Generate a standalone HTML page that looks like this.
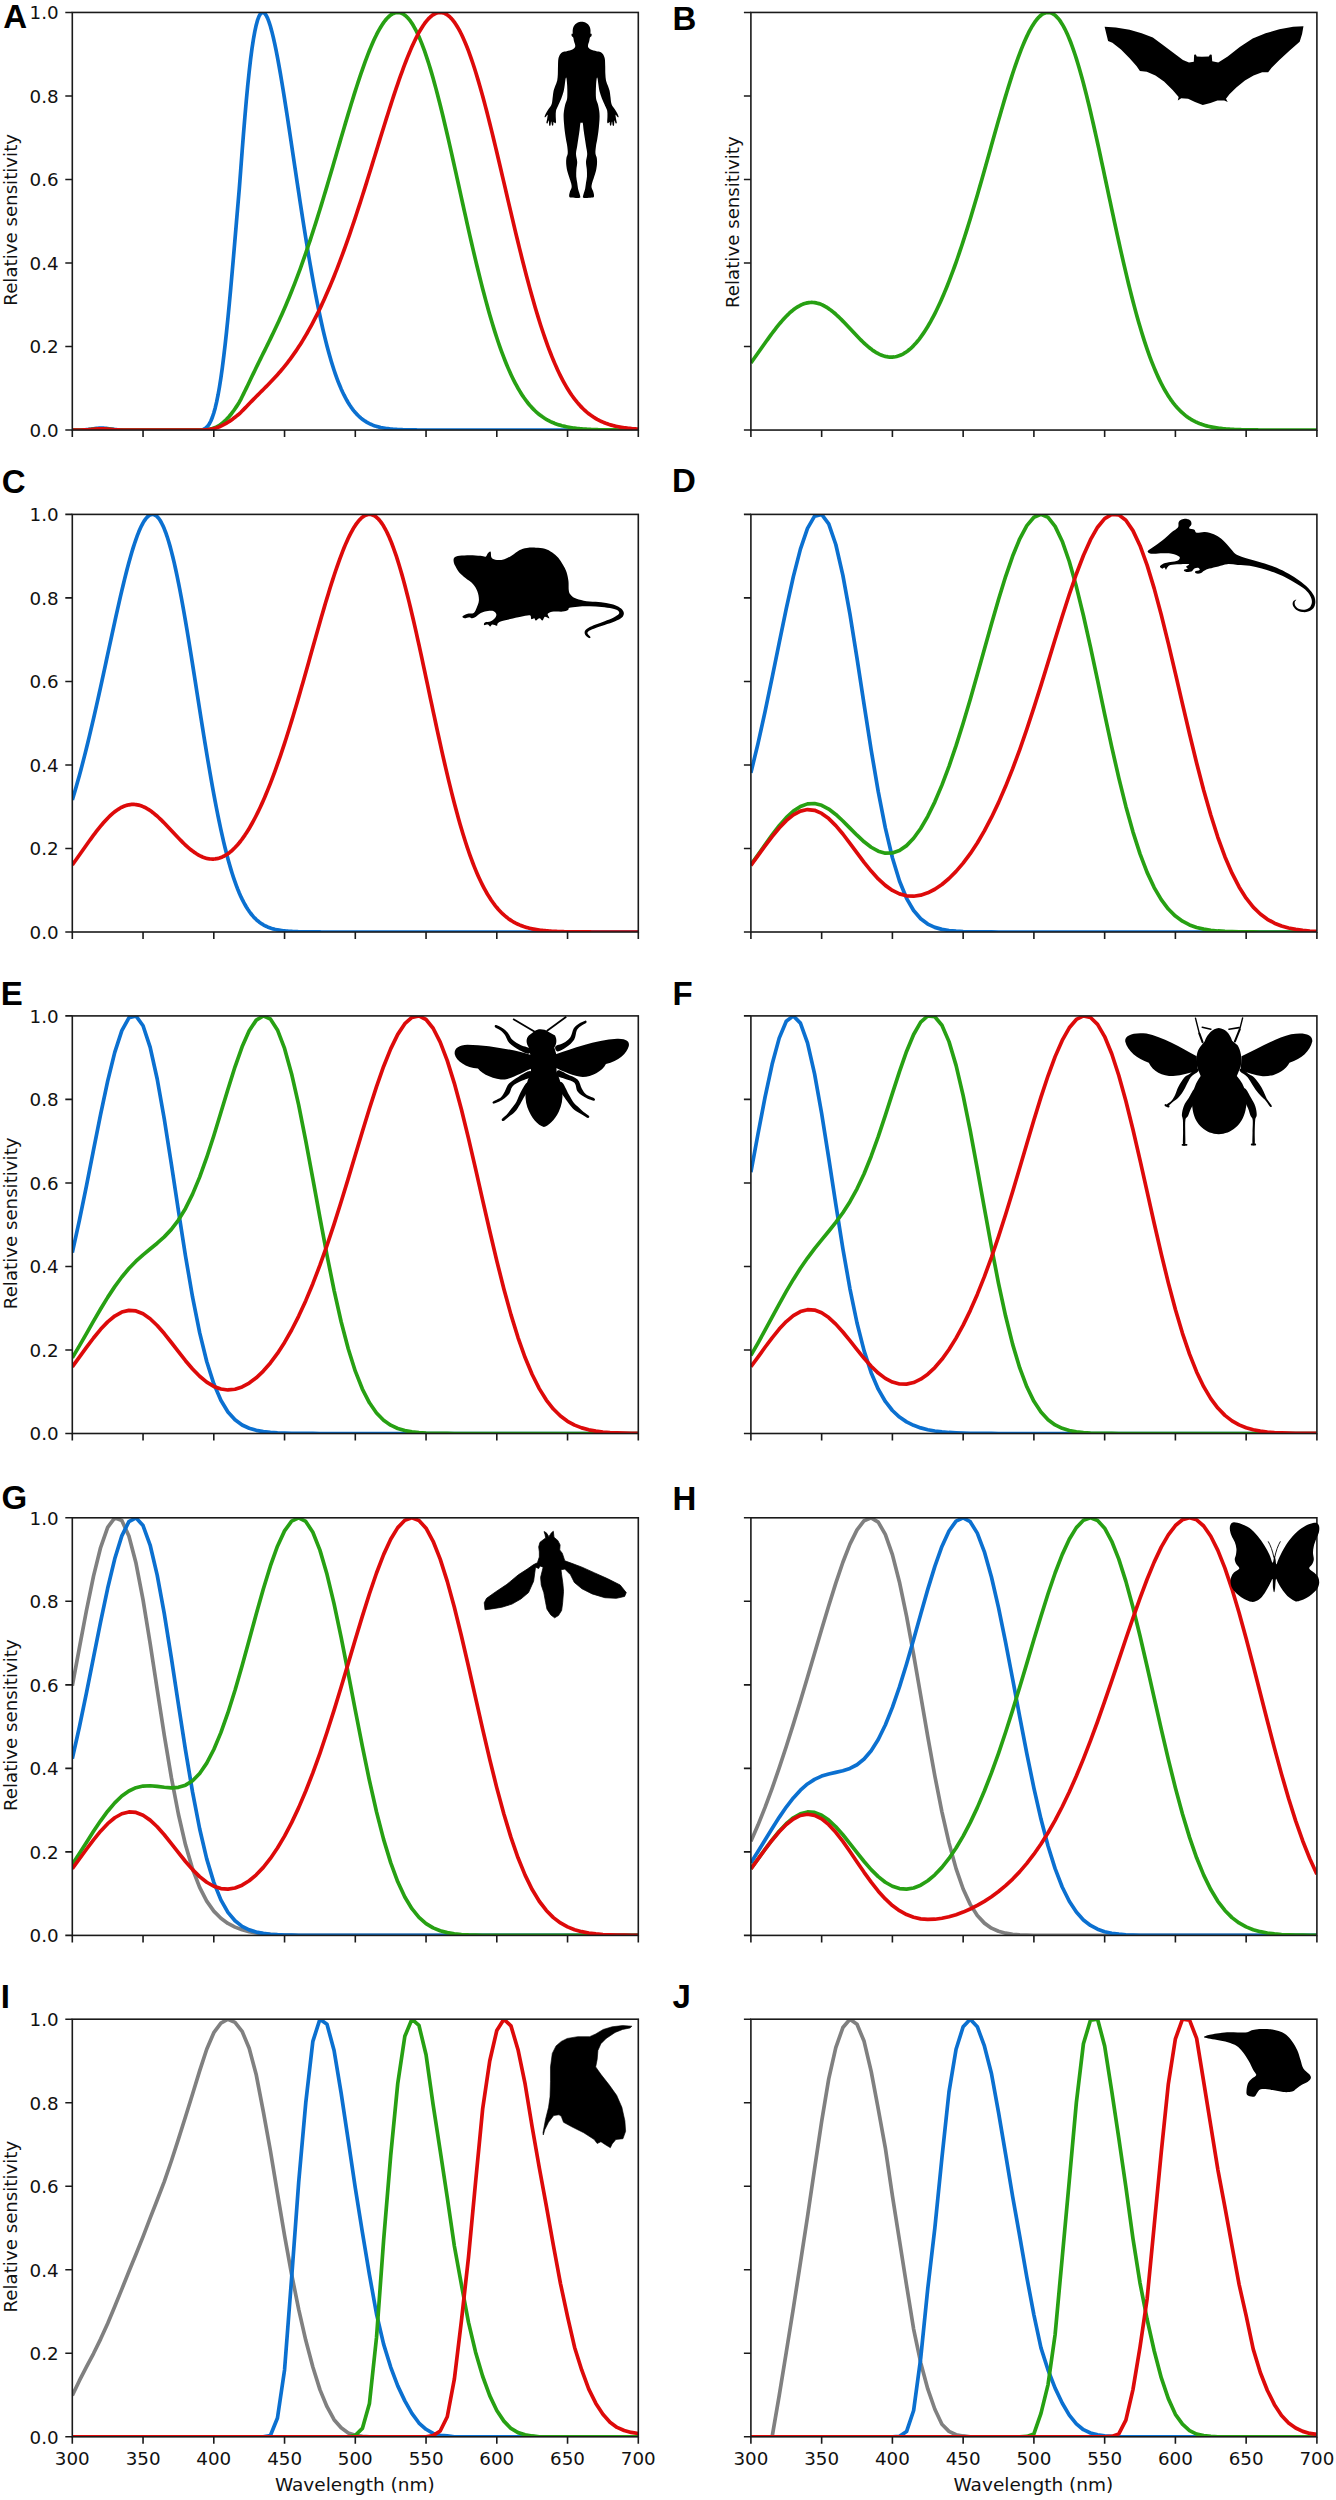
<!DOCTYPE html>
<html><head><meta charset="utf-8"><title>Spectral sensitivities</title>
<style>
html,body{margin:0;padding:0;background:#fff;}
svg{display:block}
text{font-family:"DejaVu Sans","Liberation Sans",sans-serif;fill:#111}
.tk{font-size:18.3px}
.lb{font-size:18.2px}
.xl{font-size:18.5px}
.pl{font-family:"Liberation Sans","DejaVu Sans",sans-serif;font-weight:700;font-size:33px;fill:#000}
</style></head><body>
<svg width="1336" height="2500" viewBox="0 0 1336 2500">
<defs>
<clipPath id="c00"><rect x="72.3" y="12.45" width="566.0" height="417.6"/></clipPath>
<clipPath id="c01"><rect x="750.9" y="12.45" width="566.0" height="417.6"/></clipPath>
<clipPath id="c10"><rect x="72.3" y="514.4" width="566.0" height="417.6"/></clipPath>
<clipPath id="c11"><rect x="750.9" y="514.4" width="566.0" height="417.6"/></clipPath>
<clipPath id="c20"><rect x="72.3" y="1015.9" width="566.0" height="417.6"/></clipPath>
<clipPath id="c21"><rect x="750.9" y="1015.9" width="566.0" height="417.6"/></clipPath>
<clipPath id="c30"><rect x="72.3" y="1517.8" width="566.0" height="417.6"/></clipPath>
<clipPath id="c31"><rect x="750.9" y="1517.8" width="566.0" height="417.6"/></clipPath>
<clipPath id="c40"><rect x="72.3" y="2019.2" width="566.0" height="417.6"/></clipPath>
<clipPath id="c41"><rect x="750.9" y="2019.2" width="566.0" height="417.6"/></clipPath>
</defs>
<g clip-path="url(#c00)" fill="none" stroke-width="3.7" stroke-linejoin="round" stroke-linecap="butt">
<path stroke="#0b70d0" d="M72.30 430.05 L73.72 430.05 L75.13 430.04 L76.55 430.04 L77.96 430.03 L79.38 430.01 L80.79 429.98 L82.20 429.95 L83.62 429.89 L85.03 429.82 L86.45 429.72 L87.86 429.59 L89.28 429.44 L90.69 429.26 L92.11 429.06 L93.52 428.85 L94.94 428.63 L96.36 428.43 L97.77 428.26 L99.19 428.13 L100.60 428.06 L102.02 428.05 L103.43 428.11 L104.84 428.22 L106.26 428.38 L107.67 428.57 L109.09 428.78 L110.50 428.99 L111.92 429.20 L113.33 429.39 L114.75 429.55 L116.16 429.68 L117.58 429.79 L119.00 429.87 L120.41 429.93 L121.82 429.97 L123.24 430.00 L124.66 430.02 L126.07 430.03 L127.48 430.04 L128.90 430.04 L130.31 430.05 L131.73 430.05 L133.14 430.05 L134.56 430.05 L135.97 430.05 L137.39 430.05 L138.81 430.05 L140.22 430.05 L141.63 430.05 L143.05 430.05 L144.47 430.05 L145.88 430.05 L147.30 430.05 L148.71 430.05 L150.12 430.05 L151.54 430.05 L152.95 430.05 L154.37 430.05 L155.78 430.05 L157.20 430.05 L158.62 430.05 L160.03 430.05 L161.44 430.05 L162.86 430.05 L164.28 430.05 L165.69 430.05 L167.11 430.05 L168.52 430.05 L169.94 430.05 L171.35 430.05 L172.76 430.05 L174.18 430.05 L175.59 430.05 L177.01 430.05 L178.43 430.05 L179.84 430.05 L181.25 430.05 L182.67 430.05 L184.09 430.05 L185.50 430.05 L186.92 430.05 L188.33 430.05 L189.75 430.05 L191.16 430.05 L192.57 430.05 L193.99 430.05 L195.41 430.05 L196.82 430.05 L198.24 430.05 L199.65 430.05 L201.06 429.98 L202.48 429.72 L203.89 429.23 L205.31 428.44 L206.72 427.27 L208.14 425.65 L209.56 423.49 L210.97 420.72 L212.38 417.26 L213.80 413.02 L215.21 407.93 L216.63 401.92 L218.05 394.95 L219.46 386.98 L220.88 377.96 L222.29 367.91 L223.70 356.83 L225.12 344.75 L226.54 331.73 L227.95 317.83 L229.37 303.16 L230.78 287.80 L232.19 271.90 L233.61 255.57 L235.02 238.97 L236.44 222.25 L237.85 205.55 L239.27 189.02 L240.69 170.40 L242.10 151.61 L243.51 133.51 L244.93 116.30 L246.34 100.15 L247.76 85.20 L249.18 71.57 L250.59 59.33 L252.00 48.54 L253.42 39.21 L254.83 31.34 L256.25 24.91 L257.67 19.87 L259.08 16.18 L260.50 13.75 L261.91 12.54 L263.32 12.45 L264.74 13.41 L266.16 15.35 L267.57 18.19 L268.98 21.86 L270.40 26.28 L271.81 31.39 L273.23 37.12 L274.64 43.42 L276.06 50.22 L277.47 57.47 L278.89 65.13 L280.31 73.15 L281.72 81.47 L283.13 90.06 L284.55 98.89 L285.96 107.90 L287.38 117.08 L288.80 126.38 L290.21 135.77 L291.62 145.23 L293.04 154.72 L294.45 164.23 L295.87 173.73 L297.29 183.18 L298.70 192.58 L300.12 201.91 L301.53 211.13 L302.94 220.24 L304.36 229.21 L305.77 238.04 L307.19 246.71 L308.60 255.20 L310.02 263.51 L311.44 271.62 L312.85 279.52 L314.26 287.21 L315.68 294.68 L317.09 301.92 L318.51 308.93 L319.93 315.70 L321.34 322.24 L322.75 328.53 L324.17 334.58 L325.58 340.38 L327.00 345.95 L328.42 351.27 L329.83 356.35 L331.25 361.20 L332.66 365.82 L334.08 370.20 L335.49 374.37 L336.91 378.31 L338.32 382.04 L339.74 385.56 L341.15 388.89 L342.56 392.01 L343.98 394.95 L345.39 397.71 L346.81 400.29 L348.23 402.70 L349.64 404.96 L351.06 407.06 L352.47 409.02 L353.88 410.83 L355.30 412.52 L356.71 414.08 L358.13 415.52 L359.54 416.86 L360.96 418.08 L362.38 419.21 L363.79 420.25 L365.20 421.20 L366.62 422.07 L368.03 422.87 L369.45 423.60 L370.87 424.26 L372.28 424.86 L373.69 425.41 L375.11 425.90 L376.52 426.35 L377.94 426.75 L379.36 427.12 L380.77 427.45 L382.19 427.74 L383.60 428.01 L385.01 428.25 L386.43 428.46 L387.85 428.65 L389.26 428.82 L390.68 428.97 L392.09 429.10 L393.50 429.22 L394.92 429.32 L396.34 429.42 L397.75 429.50 L399.17 429.57 L400.58 429.63 L402.00 429.69 L403.41 429.74 L404.83 429.78 L406.24 429.82 L407.66 429.85 L409.07 429.88 L410.49 429.90 L411.90 429.92 L413.32 429.94 L414.73 429.96 L416.15 429.97 L417.56 429.98 L418.98 429.99 L420.39 430.00 L421.81 430.01 L423.22 430.02 L424.64 430.02 L426.05 430.03 L427.46 430.03 L428.88 430.03 L430.29 430.04 L431.71 430.04 L433.12 430.04 L434.54 430.04 L435.95 430.04 L437.37 430.04 L438.78 430.05 L440.20 430.05 L441.62 430.05 L443.03 430.05 L444.44 430.05 L445.86 430.05 L447.27 430.05 L448.69 430.05 L450.11 430.05 L451.52 430.05 L452.94 430.05 L454.35 430.05 L455.76 430.05 L457.18 430.05 L458.60 430.05 L460.01 430.05 L461.43 430.05 L462.84 430.05 L464.25 430.05 L465.67 430.05 L467.09 430.05 L468.50 430.05 L469.92 430.05 L471.33 430.05 L472.75 430.05 L474.16 430.05 L475.58 430.05 L476.99 430.05 L478.41 430.05 L479.82 430.05 L481.24 430.05 L482.65 430.05 L484.07 430.05 L485.48 430.05 L486.90 430.05 L488.31 430.05 L489.73 430.05 L491.14 430.05 L492.56 430.05 L493.97 430.05 L495.39 430.05 L496.80 430.05 L498.21 430.05 L499.63 430.05 L501.04 430.05 L502.46 430.05 L503.88 430.05 L505.29 430.05 L506.70 430.05 L508.12 430.05 L509.53 430.05 L510.95 430.05 L512.37 430.05 L513.78 430.05 L515.19 430.05 L516.61 430.05 L518.02 430.05 L519.44 430.05 L520.86 430.05 L522.27 430.05 L523.68 430.05 L525.10 430.05 L526.51 430.05 L527.93 430.05 L529.35 430.05 L530.76 430.05 L532.17 430.05 L533.59 430.05 L535.00 430.05 L536.42 430.05 L537.84 430.05 L539.25 430.05 L540.66 430.05 L542.08 430.05 L543.50 430.05 L544.91 430.05 L546.33 430.05 L547.74 430.05 L549.15 430.05 L550.57 430.05 L551.99 430.05 L553.40 430.05 L554.82 430.05 L556.23 430.05 L557.64 430.05 L559.06 430.05 L560.48 430.05 L561.89 430.05 L563.31 430.05 L564.72 430.05 L566.13 430.05 L567.55 430.05 L568.96 430.05 L570.38 430.05 L571.79 430.05 L573.21 430.05 L574.62 430.05 L576.04 430.05 L577.45 430.05 L578.87 430.05 L580.28 430.05 L581.70 430.05 L583.12 430.05 L584.53 430.05 L585.94 430.05 L587.36 430.05 L588.77 430.05 L590.19 430.05 L591.60 430.05 L593.02 430.05 L594.43 430.05 L595.85 430.05 L597.26 430.05 L598.68 430.05 L600.09 430.05 L601.51 430.05 L602.92 430.05 L604.34 430.05 L605.75 430.05 L607.17 430.05 L608.58 430.05 L610.00 430.05 L611.41 430.05 L612.83 430.05 L614.25 430.05 L615.66 430.05 L617.07 430.05 L618.49 430.05 L619.90 430.05 L621.32 430.05 L622.74 430.05 L624.15 430.05 L625.56 430.05 L626.98 430.05 L628.39 430.05 L629.81 430.05 L631.23 430.05 L632.64 430.05 L634.05 430.05 L635.47 430.05 L636.88 430.05 L638.30 430.05"/>
<path stroke="#27a013" d="M72.30 430.05 L73.72 430.05 L75.13 430.04 L76.55 430.04 L77.96 430.03 L79.38 430.02 L80.79 430.01 L82.20 429.98 L83.62 429.95 L85.03 429.90 L86.45 429.83 L87.86 429.75 L89.28 429.65 L90.69 429.54 L92.11 429.41 L93.52 429.27 L94.94 429.14 L96.36 429.01 L97.77 428.91 L99.19 428.83 L100.60 428.79 L102.02 428.79 L103.43 428.83 L104.84 428.91 L106.26 429.01 L107.67 429.14 L109.09 429.27 L110.50 429.41 L111.92 429.54 L113.33 429.65 L114.75 429.75 L116.16 429.83 L117.58 429.90 L119.00 429.95 L120.41 429.98 L121.82 430.01 L123.24 430.02 L124.66 430.03 L126.07 430.04 L127.48 430.04 L128.90 430.05 L130.31 430.05 L131.73 430.05 L133.14 430.05 L134.56 430.05 L135.97 430.05 L137.39 430.05 L138.81 430.05 L140.22 430.05 L141.63 430.05 L143.05 430.05 L144.47 430.05 L145.88 430.05 L147.30 430.05 L148.71 430.05 L150.12 430.05 L151.54 430.05 L152.95 430.05 L154.37 430.05 L155.78 430.05 L157.20 430.05 L158.62 430.05 L160.03 430.05 L161.44 430.05 L162.86 430.05 L164.28 430.05 L165.69 430.05 L167.11 430.05 L168.52 430.05 L169.94 430.05 L171.35 430.05 L172.76 430.05 L174.18 430.05 L175.59 430.05 L177.01 430.05 L178.43 430.05 L179.84 430.05 L181.25 430.05 L182.67 430.05 L184.09 430.05 L185.50 430.05 L186.92 430.05 L188.33 430.05 L189.75 430.05 L191.16 430.05 L192.57 430.05 L193.99 430.05 L195.41 430.05 L196.82 430.05 L198.24 430.05 L199.65 430.05 L201.06 430.04 L202.48 430.00 L203.89 429.94 L205.31 429.83 L206.72 429.68 L208.14 429.48 L209.56 429.22 L210.97 428.89 L212.38 428.50 L213.80 428.02 L215.21 427.46 L216.63 426.81 L218.05 426.06 L219.46 425.21 L220.88 424.26 L222.29 423.20 L223.70 422.03 L225.12 420.74 L226.54 419.35 L227.95 417.85 L229.37 416.24 L230.78 414.52 L232.19 412.69 L233.61 410.77 L235.02 408.75 L236.44 406.64 L237.85 404.45 L239.27 402.18 L240.69 399.55 L242.10 396.77 L243.51 393.93 L244.93 391.05 L246.34 388.12 L247.76 385.18 L249.18 382.23 L250.59 379.27 L252.00 376.32 L253.42 373.38 L254.83 370.46 L256.25 367.54 L257.67 364.65 L259.08 361.77 L260.50 358.89 L261.91 356.03 L263.32 353.18 L264.74 350.32 L266.16 347.46 L267.57 344.60 L268.98 341.72 L270.40 338.83 L271.81 335.92 L273.23 332.98 L274.64 330.02 L276.06 327.02 L277.47 323.99 L278.89 320.92 L280.31 317.82 L281.72 314.67 L283.13 311.47 L284.55 308.23 L285.96 304.94 L287.38 301.59 L288.80 298.20 L290.21 294.75 L291.62 291.24 L293.04 287.68 L294.45 284.07 L295.87 280.40 L297.29 276.67 L298.70 272.88 L300.12 269.04 L301.53 265.13 L302.94 261.17 L304.36 257.16 L305.77 253.09 L307.19 248.96 L308.60 244.78 L310.02 240.54 L311.44 236.25 L312.85 231.91 L314.26 227.52 L315.68 223.09 L317.09 218.60 L318.51 214.07 L319.93 209.51 L321.34 204.90 L322.75 200.25 L324.17 195.57 L325.58 190.85 L327.00 186.11 L328.42 181.34 L329.83 176.54 L331.25 171.73 L332.66 166.90 L334.08 162.06 L335.49 157.21 L336.91 152.35 L338.32 147.50 L339.74 142.64 L341.15 137.80 L342.56 132.97 L343.98 128.15 L345.39 123.36 L346.81 118.60 L348.23 113.87 L349.64 109.17 L351.06 104.52 L352.47 99.92 L353.88 95.37 L355.30 90.88 L356.71 86.46 L358.13 82.10 L359.54 77.83 L360.96 73.63 L362.38 69.53 L363.79 65.52 L365.20 61.61 L366.62 57.81 L368.03 54.12 L369.45 50.55 L370.87 47.11 L372.28 43.79 L373.69 40.61 L375.11 37.58 L376.52 34.69 L377.94 31.95 L379.36 29.37 L380.77 26.96 L382.19 24.72 L383.60 22.65 L385.01 20.76 L386.43 19.05 L387.85 17.53 L389.26 16.20 L390.68 15.06 L392.09 14.13 L393.50 13.40 L394.92 12.87 L396.34 12.56 L397.75 12.45 L399.17 12.56 L400.58 12.88 L402.00 13.42 L403.41 14.17 L404.83 15.15 L406.24 16.34 L407.66 17.75 L409.07 19.38 L410.49 21.23 L411.90 23.29 L413.32 25.57 L414.73 28.06 L416.15 30.76 L417.56 33.68 L418.98 36.79 L420.39 40.11 L421.81 43.63 L423.22 47.34 L424.64 51.24 L426.05 55.32 L427.46 59.59 L428.88 64.03 L430.29 68.63 L431.71 73.40 L433.12 78.32 L434.54 83.40 L435.95 88.61 L437.37 93.96 L438.78 99.44 L440.20 105.03 L441.62 110.74 L443.03 116.56 L444.44 122.47 L445.86 128.46 L447.27 134.54 L448.69 140.69 L450.11 146.90 L451.52 153.16 L452.94 159.47 L454.35 165.82 L455.76 172.20 L457.18 178.60 L458.60 185.01 L460.01 191.43 L461.43 197.84 L462.84 204.24 L464.25 210.62 L465.67 216.97 L467.09 223.29 L468.50 229.57 L469.92 235.80 L471.33 241.97 L472.75 248.09 L474.16 254.13 L475.58 260.10 L476.99 265.99 L478.41 271.80 L479.82 277.52 L481.24 283.14 L482.65 288.67 L484.07 294.09 L485.48 299.40 L486.90 304.61 L488.31 309.70 L489.73 314.68 L491.14 319.53 L492.56 324.27 L493.97 328.88 L495.39 333.38 L496.80 337.74 L498.21 341.98 L499.63 346.09 L501.04 350.08 L502.46 353.94 L503.88 357.67 L505.29 361.28 L506.70 364.76 L508.12 368.12 L509.53 371.35 L510.95 374.46 L512.37 377.45 L513.78 380.33 L515.19 383.08 L516.61 385.72 L518.02 388.25 L519.44 390.67 L520.86 392.98 L522.27 395.18 L523.68 397.29 L525.10 399.29 L526.51 401.19 L527.93 403.01 L529.35 404.73 L530.76 406.36 L532.17 407.90 L533.59 409.37 L535.00 410.75 L536.42 412.06 L537.84 413.29 L539.25 414.46 L540.66 415.56 L542.08 416.59 L543.50 417.56 L544.91 418.47 L546.33 419.32 L547.74 420.12 L549.15 420.87 L550.57 421.57 L551.99 422.23 L553.40 422.84 L554.82 423.41 L556.23 423.94 L557.64 424.43 L559.06 424.89 L560.48 425.31 L561.89 425.71 L563.31 426.07 L564.72 426.41 L566.13 426.72 L567.55 427.01 L568.96 427.28 L570.38 427.52 L571.79 427.75 L573.21 427.96 L574.62 428.15 L576.04 428.32 L577.45 428.48 L578.87 428.63 L580.28 428.77 L581.70 428.89 L583.12 429.00 L584.53 429.10 L585.94 429.20 L587.36 429.28 L588.77 429.36 L590.19 429.43 L591.60 429.49 L593.02 429.55 L594.43 429.60 L595.85 429.65 L597.26 429.69 L598.68 429.73 L600.09 429.76 L601.51 429.79 L602.92 429.82 L604.34 429.85 L605.75 429.87 L607.17 429.89 L608.58 429.91 L610.00 429.92 L611.41 429.94 L612.83 429.95 L614.25 429.96 L615.66 429.97 L617.07 429.98 L618.49 429.99 L619.90 430.00 L621.32 430.00 L622.74 430.01 L624.15 430.01 L625.56 430.02 L626.98 430.02 L628.39 430.03 L629.81 430.03 L631.23 430.03 L632.64 430.03 L634.05 430.04 L635.47 430.04 L636.88 430.04 L638.30 430.04"/>
<path stroke="#dd0a0a" d="M72.30 430.05 L73.72 430.05 L75.13 430.04 L76.55 430.04 L77.96 430.03 L79.38 430.02 L80.79 430.01 L82.20 429.98 L83.62 429.95 L85.03 429.90 L86.45 429.83 L87.86 429.75 L89.28 429.65 L90.69 429.54 L92.11 429.41 L93.52 429.28 L94.94 429.14 L96.36 429.02 L97.77 428.92 L99.19 428.84 L100.60 428.80 L102.02 428.80 L103.43 428.84 L104.84 428.92 L106.26 429.02 L107.67 429.15 L109.09 429.28 L110.50 429.42 L111.92 429.54 L113.33 429.66 L114.75 429.76 L116.16 429.84 L117.58 429.90 L119.00 429.95 L120.41 429.98 L121.82 430.01 L123.24 430.02 L124.66 430.03 L126.07 430.04 L127.48 430.04 L128.90 430.05 L130.31 430.05 L131.73 430.05 L133.14 430.05 L134.56 430.05 L135.97 430.05 L137.39 430.05 L138.81 430.05 L140.22 430.05 L141.63 430.05 L143.05 430.05 L144.47 430.05 L145.88 430.05 L147.30 430.05 L148.71 430.05 L150.12 430.05 L151.54 430.05 L152.95 430.05 L154.37 430.05 L155.78 430.05 L157.20 430.05 L158.62 430.05 L160.03 430.05 L161.44 430.05 L162.86 430.05 L164.28 430.05 L165.69 430.05 L167.11 430.05 L168.52 430.05 L169.94 430.05 L171.35 430.05 L172.76 430.05 L174.18 430.05 L175.59 430.05 L177.01 430.05 L178.43 430.05 L179.84 430.05 L181.25 430.05 L182.67 430.05 L184.09 430.05 L185.50 430.05 L186.92 430.05 L188.33 430.05 L189.75 430.05 L191.16 430.05 L192.57 430.05 L193.99 430.05 L195.41 430.05 L196.82 430.05 L198.24 430.05 L199.65 430.05 L201.06 430.04 L202.48 430.01 L203.89 429.96 L205.31 429.88 L206.72 429.76 L208.14 429.61 L209.56 429.42 L210.97 429.18 L212.38 428.90 L213.80 428.56 L215.21 428.18 L216.63 427.74 L218.05 427.24 L219.46 426.69 L220.88 426.09 L222.29 425.43 L223.70 424.71 L225.12 423.95 L226.54 423.13 L227.95 422.26 L229.37 421.35 L230.78 420.39 L232.19 419.39 L233.61 418.35 L235.02 417.27 L236.44 416.16 L237.85 415.02 L239.27 413.85 L240.69 412.49 L242.10 411.06 L243.51 409.62 L244.93 408.16 L246.34 406.69 L247.76 405.22 L249.18 403.76 L250.59 402.30 L252.00 400.85 L253.42 399.40 L254.83 397.97 L256.25 396.54 L257.67 395.12 L259.08 393.70 L260.50 392.29 L261.91 390.88 L263.32 389.47 L264.74 388.05 L266.16 386.63 L267.57 385.19 L268.98 383.74 L270.40 382.28 L271.81 380.80 L273.23 379.30 L274.64 377.78 L276.06 376.23 L277.47 374.66 L278.89 373.06 L280.31 371.43 L281.72 369.77 L283.13 368.07 L284.55 366.34 L285.96 364.58 L287.38 362.77 L288.80 360.93 L290.21 359.05 L291.62 357.12 L293.04 355.16 L294.45 353.15 L295.87 351.09 L297.29 348.99 L298.70 346.85 L300.12 344.65 L301.53 342.41 L302.94 340.12 L304.36 337.78 L305.77 335.39 L307.19 332.95 L308.60 330.46 L310.02 327.92 L311.44 325.32 L312.85 322.67 L314.26 319.96 L315.68 317.20 L317.09 314.39 L318.51 311.51 L319.93 308.59 L321.34 305.61 L322.75 302.57 L324.17 299.47 L325.58 296.32 L327.00 293.11 L328.42 289.85 L329.83 286.53 L331.25 283.15 L332.66 279.72 L334.08 276.23 L335.49 272.68 L336.91 269.08 L338.32 265.42 L339.74 261.71 L341.15 257.95 L342.56 254.13 L343.98 250.26 L345.39 246.34 L346.81 242.37 L348.23 238.35 L349.64 234.28 L351.06 230.17 L352.47 226.01 L353.88 221.80 L355.30 217.56 L356.71 213.27 L358.13 208.95 L359.54 204.59 L360.96 200.20 L362.38 195.77 L363.79 191.32 L365.20 186.83 L366.62 182.33 L368.03 177.80 L369.45 173.25 L370.87 168.69 L372.28 164.11 L373.69 159.53 L375.11 154.94 L376.52 150.34 L377.94 145.75 L379.36 141.16 L380.77 136.58 L382.19 132.01 L383.60 127.46 L385.01 122.93 L386.43 118.42 L387.85 113.94 L389.26 109.50 L390.68 105.09 L392.09 100.73 L393.50 96.42 L394.92 92.15 L396.34 87.95 L397.75 83.80 L399.17 79.72 L400.58 75.72 L402.00 71.79 L403.41 67.94 L404.83 64.18 L406.24 60.51 L407.66 56.94 L409.07 53.47 L410.49 50.11 L411.90 46.86 L413.32 43.73 L414.73 40.72 L416.15 37.84 L417.56 35.09 L418.98 32.48 L420.39 30.00 L421.81 27.68 L423.22 25.50 L424.64 23.48 L426.05 21.61 L427.46 19.91 L428.88 18.37 L430.29 17.01 L431.71 15.81 L433.12 14.79 L434.54 13.96 L435.95 13.30 L437.37 12.83 L438.78 12.55 L440.20 12.45 L441.62 12.55 L443.03 12.83 L444.44 13.32 L445.86 13.99 L447.27 14.86 L448.69 15.93 L450.11 17.20 L451.52 18.65 L452.94 20.31 L454.35 22.16 L455.76 24.20 L457.18 26.44 L458.60 28.86 L460.01 31.47 L461.43 34.27 L462.84 37.25 L464.25 40.42 L465.67 43.76 L467.09 47.27 L468.50 50.95 L469.92 54.80 L471.33 58.81 L472.75 62.98 L474.16 67.30 L475.58 71.76 L476.99 76.37 L478.41 81.11 L479.82 85.99 L481.24 90.98 L482.65 96.10 L484.07 101.32 L485.48 106.65 L486.90 112.08 L488.31 117.60 L489.73 123.21 L491.14 128.89 L492.56 134.65 L493.97 140.47 L495.39 146.34 L496.80 152.26 L498.21 158.23 L499.63 164.23 L501.04 170.26 L502.46 176.31 L503.88 182.38 L505.29 188.45 L506.70 194.52 L508.12 200.58 L509.53 206.63 L510.95 212.66 L512.37 218.67 L513.78 224.64 L515.19 230.57 L516.61 236.46 L518.02 242.30 L519.44 248.09 L520.86 253.81 L522.27 259.47 L523.68 265.05 L525.10 270.56 L526.51 276.00 L527.93 281.34 L529.35 286.61 L530.76 291.78 L532.17 296.85 L533.59 301.83 L535.00 306.71 L536.42 311.49 L537.84 316.16 L539.25 320.73 L540.66 325.19 L542.08 329.53 L543.50 333.77 L544.91 337.89 L546.33 341.91 L547.74 345.80 L549.15 349.59 L550.57 353.26 L551.99 356.82 L553.40 360.26 L554.82 363.60 L556.23 366.82 L557.64 369.92 L559.06 372.92 L560.48 375.81 L561.89 378.60 L563.31 381.27 L564.72 383.85 L566.13 386.32 L567.55 388.69 L568.96 390.96 L570.38 393.14 L571.79 395.22 L573.21 397.21 L574.62 399.11 L576.04 400.93 L577.45 402.66 L578.87 404.30 L580.28 405.87 L581.70 407.36 L583.12 408.78 L584.53 410.12 L585.94 411.39 L587.36 412.60 L588.77 413.74 L590.19 414.82 L591.60 415.84 L593.02 416.80 L594.43 417.71 L595.85 418.56 L597.26 419.37 L598.68 420.12 L600.09 420.83 L601.51 421.50 L602.92 422.12 L604.34 422.71 L605.75 423.26 L607.17 423.77 L608.58 424.25 L610.00 424.69 L611.41 425.11 L612.83 425.50 L614.25 425.86 L615.66 426.20 L617.07 426.51 L618.49 426.80 L619.90 427.07 L621.32 427.31 L622.74 427.54 L624.15 427.76 L625.56 427.95 L626.98 428.14 L628.39 428.30 L629.81 428.46 L631.23 428.60 L632.64 428.73 L634.05 428.85 L635.47 428.96 L636.88 429.06 L638.30 429.15"/>
</g>
<path d="M72.30 430.05v7M143.05 430.05v7M213.80 430.05v7M284.55 430.05v7M355.30 430.05v7M426.05 430.05v7M496.80 430.05v7M567.55 430.05v7M638.30 430.05v7M72.30 430.05h-7M72.30 346.53h-7M72.30 263.01h-7M72.30 179.49h-7M72.30 95.97h-7M72.30 12.45h-7" stroke="#1a1a1a" stroke-width="1.6" fill="none"/>
<rect x="72.3" y="12.45" width="566.0" height="417.6" fill="none" stroke="#1a1a1a" stroke-width="1.6"/>
<text class="tk" x="58.7" y="436.9" text-anchor="end">0.0</text>
<text class="tk" x="58.7" y="353.3" text-anchor="end">0.2</text>
<text class="tk" x="58.7" y="269.8" text-anchor="end">0.4</text>
<text class="tk" x="58.7" y="186.3" text-anchor="end">0.6</text>
<text class="tk" x="58.7" y="102.8" text-anchor="end">0.8</text>
<text class="tk" x="58.7" y="19.2" text-anchor="end">1.0</text>
<text class="lb" transform="translate(17.4,219.8) rotate(-90)" text-anchor="middle">Relative sensitivity</text>
<text class="pl" x="3.3" y="28.4">A</text>
<g transform="translate(530,10) scale(0.08000)" fill="#000" stroke="none"><path d="M645.0 146.0C654.0 146.0 663.2 147.0 672.0 149.0C680.8 151.0 689.2 153.2 698.0 158.0C706.8 162.8 717.0 169.3 725.0 178.0C733.0 186.7 740.8 198.0 746.0 210.0C751.2 222.0 754.2 235.8 756.0 250.0C757.8 264.2 754.7 286.7 757.0 295.0C759.3 303.3 768.2 295.0 770.0 300.0C771.8 305.0 771.3 317.5 768.0 325.0C764.7 332.5 754.7 334.2 750.0 345.0C745.3 355.8 744.2 374.2 740.0 390.0C735.8 405.8 726.7 426.7 725.0 440.0C723.3 453.3 724.2 460.8 730.0 470.0C735.8 479.2 743.3 487.5 760.0 495.0C776.7 502.5 810.0 510.0 830.0 515.0C850.0 520.0 865.8 518.3 880.0 525.0C894.2 531.7 905.8 540.8 915.0 555.0C924.2 569.2 930.8 585.8 935.0 610.0C939.2 634.2 938.8 668.3 940.0 700.0C941.2 731.7 940.3 770.0 942.0 800.0C943.7 830.0 944.5 855.0 950.0 880.0C955.5 905.0 967.5 928.3 975.0 950.0C982.5 971.7 990.0 988.3 995.0 1010.0C1000.0 1031.7 1001.7 1055.0 1005.0 1080.0C1008.3 1105.0 1010.8 1140.0 1015.0 1160.0C1019.2 1180.0 1022.5 1186.7 1030.0 1200.0C1037.5 1213.3 1050.0 1225.0 1060.0 1240.0C1070.0 1255.0 1082.0 1274.2 1090.0 1290.0C1098.0 1305.8 1107.2 1327.0 1108.0 1335.0C1108.8 1343.0 1101.3 1342.2 1095.0 1338.0C1088.7 1333.8 1073.3 1306.3 1070.0 1310.0C1066.7 1313.7 1072.5 1343.3 1075.0 1360.0C1077.5 1376.7 1085.8 1400.8 1085.0 1410.0C1084.2 1419.2 1075.0 1420.0 1070.0 1415.0C1065.0 1410.0 1058.3 1375.8 1055.0 1380.0C1051.7 1384.2 1053.3 1429.2 1050.0 1440.0C1046.7 1450.8 1039.2 1452.5 1035.0 1445.0C1030.8 1437.5 1028.3 1395.8 1025.0 1395.0C1021.7 1394.2 1019.2 1432.5 1015.0 1440.0C1010.8 1447.5 1003.3 1446.7 1000.0 1440.0C996.7 1433.3 999.2 1404.2 995.0 1400.0C990.8 1395.8 980.0 1415.0 975.0 1415.0C970.0 1415.0 966.2 1414.2 965.0 1400.0C963.8 1385.8 968.0 1353.3 968.0 1330.0C968.0 1306.7 969.7 1281.7 965.0 1260.0C960.3 1238.3 950.8 1225.0 940.0 1200.0C929.2 1175.0 911.7 1140.0 900.0 1110.0C888.3 1080.0 877.5 1050.0 870.0 1020.0C862.5 990.0 859.2 956.7 855.0 930.0C850.8 903.3 848.3 873.3 845.0 860.0C841.7 846.7 838.3 835.0 835.0 850.0C831.7 865.0 826.7 908.3 825.0 950.0C823.3 991.7 820.8 1061.7 825.0 1100.0C829.2 1138.3 843.3 1153.3 850.0 1180.0C856.7 1206.7 861.7 1235.0 865.0 1260.0C868.3 1285.0 870.0 1303.3 870.0 1330.0C870.0 1356.7 867.5 1388.3 865.0 1420.0C862.5 1451.7 859.2 1486.7 855.0 1520.0C850.8 1553.3 845.0 1590.0 840.0 1620.0C835.0 1650.0 828.7 1671.7 825.0 1700.0C821.3 1728.3 816.3 1765.0 818.0 1790.0C819.7 1815.0 831.7 1828.3 835.0 1850.0C838.3 1871.7 839.7 1893.3 838.0 1920.0C836.3 1946.7 831.3 1981.7 825.0 2010.0C818.7 2038.3 808.3 2063.3 800.0 2090.0C791.7 2116.7 780.0 2148.3 775.0 2170.0C770.0 2191.7 767.5 2203.3 770.0 2220.0C772.5 2236.7 785.0 2251.7 790.0 2270.0C795.0 2288.3 803.3 2317.5 800.0 2330.0C796.7 2342.5 786.7 2341.7 770.0 2345.0C753.3 2348.3 718.0 2350.0 700.0 2350.0C682.0 2350.0 667.0 2353.3 662.0 2345.0C657.0 2336.7 665.3 2319.2 670.0 2300.0C674.7 2280.8 685.0 2253.3 690.0 2230.0C695.0 2206.7 696.3 2185.0 700.0 2160.0C703.7 2135.0 710.3 2108.3 712.0 2080.0C713.7 2051.7 712.0 2020.0 710.0 1990.0C708.0 1960.0 699.2 1931.7 700.0 1900.0C700.8 1868.3 715.0 1833.3 715.0 1800.0C715.0 1766.7 705.0 1733.3 700.0 1700.0C695.0 1666.7 690.0 1633.3 685.0 1600.0C680.0 1566.7 674.2 1530.8 670.0 1500.0C665.8 1469.2 664.2 1430.0 660.0 1415.0C655.8 1400.0 650.0 1410.0 645.0 1410.0C640.0 1410.0 634.2 1400.0 630.0 1415.0C625.8 1430.0 624.2 1469.2 620.0 1500.0C615.8 1530.8 610.0 1566.7 605.0 1600.0C600.0 1633.3 595.0 1666.7 590.0 1700.0C585.0 1733.3 575.0 1766.7 575.0 1800.0C575.0 1833.3 589.2 1868.3 590.0 1900.0C590.8 1931.7 582.0 1960.0 580.0 1990.0C578.0 2020.0 576.3 2051.7 578.0 2080.0C579.7 2108.3 586.3 2135.0 590.0 2160.0C593.7 2185.0 595.0 2206.7 600.0 2230.0C605.0 2253.3 615.3 2280.8 620.0 2300.0C624.7 2319.2 633.0 2336.7 628.0 2345.0C623.0 2353.3 608.0 2350.0 590.0 2350.0C572.0 2350.0 536.7 2348.3 520.0 2345.0C503.3 2341.7 493.3 2342.5 490.0 2330.0C486.7 2317.5 495.0 2288.3 500.0 2270.0C505.0 2251.7 517.5 2236.7 520.0 2220.0C522.5 2203.3 520.0 2191.7 515.0 2170.0C510.0 2148.3 498.3 2116.7 490.0 2090.0C481.7 2063.3 471.3 2038.3 465.0 2010.0C458.7 1981.7 453.7 1946.7 452.0 1920.0C450.3 1893.3 451.7 1871.7 455.0 1850.0C458.3 1828.3 470.3 1815.0 472.0 1790.0C473.7 1765.0 468.7 1728.3 465.0 1700.0C461.3 1671.7 455.0 1650.0 450.0 1620.0C445.0 1590.0 439.2 1553.3 435.0 1520.0C430.8 1486.7 427.5 1451.7 425.0 1420.0C422.5 1388.3 420.0 1356.7 420.0 1330.0C420.0 1303.3 421.7 1285.0 425.0 1260.0C428.3 1235.0 433.3 1206.7 440.0 1180.0C446.7 1153.3 460.8 1138.3 465.0 1100.0C469.2 1061.7 466.7 991.7 465.0 950.0C463.3 908.3 458.3 865.0 455.0 850.0C451.7 835.0 448.3 846.7 445.0 860.0C441.7 873.3 439.2 903.3 435.0 930.0C430.8 956.7 427.5 990.0 420.0 1020.0C412.5 1050.0 401.7 1080.0 390.0 1110.0C378.3 1140.0 360.8 1175.0 350.0 1200.0C339.2 1225.0 329.7 1238.3 325.0 1260.0C320.3 1281.7 322.0 1306.7 322.0 1330.0C322.0 1353.3 326.2 1385.8 325.0 1400.0C323.8 1414.2 320.0 1415.0 315.0 1415.0C310.0 1415.0 299.2 1395.8 295.0 1400.0C290.8 1404.2 293.3 1433.3 290.0 1440.0C286.7 1446.7 279.2 1447.5 275.0 1440.0C270.8 1432.5 268.3 1394.2 265.0 1395.0C261.7 1395.8 259.2 1437.5 255.0 1445.0C250.8 1452.5 243.3 1450.8 240.0 1440.0C236.7 1429.2 238.3 1384.2 235.0 1380.0C231.7 1375.8 225.0 1410.0 220.0 1415.0C215.0 1420.0 205.8 1419.2 205.0 1410.0C204.2 1400.8 212.5 1376.7 215.0 1360.0C217.5 1343.3 223.3 1313.7 220.0 1310.0C216.7 1306.3 201.3 1333.8 195.0 1338.0C188.7 1342.2 181.2 1343.0 182.0 1335.0C182.8 1327.0 192.0 1305.8 200.0 1290.0C208.0 1274.2 220.0 1255.0 230.0 1240.0C240.0 1225.0 252.5 1213.3 260.0 1200.0C267.5 1186.7 270.8 1180.0 275.0 1160.0C279.2 1140.0 281.7 1105.0 285.0 1080.0C288.3 1055.0 290.0 1031.7 295.0 1010.0C300.0 988.3 307.5 971.7 315.0 950.0C322.5 928.3 334.5 905.0 340.0 880.0C345.5 855.0 346.3 830.0 348.0 800.0C349.7 770.0 348.8 731.7 350.0 700.0C351.2 668.3 350.8 634.2 355.0 610.0C359.2 585.8 365.8 569.2 375.0 555.0C384.2 540.8 395.8 531.7 410.0 525.0C424.2 518.3 440.0 520.0 460.0 515.0C480.0 510.0 513.3 502.5 530.0 495.0C546.7 487.5 554.2 479.2 560.0 470.0C565.8 460.8 566.7 453.3 565.0 440.0C563.3 426.7 554.2 405.8 550.0 390.0C545.8 374.2 544.7 355.8 540.0 345.0C535.3 334.2 525.3 332.5 522.0 325.0C518.7 317.5 518.2 305.0 520.0 300.0C521.8 295.0 530.7 303.3 533.0 295.0C535.3 286.7 532.2 264.2 534.0 250.0C535.8 235.8 538.8 222.0 544.0 210.0C549.2 198.0 557.0 186.7 565.0 178.0C573.0 169.3 583.2 162.8 592.0 158.0C600.8 153.2 609.2 151.0 618.0 149.0C626.8 147.0 636.0 146.0 645.0 146.0Z"/></g>
<g clip-path="url(#c01)" fill="none" stroke-width="3.7" stroke-linejoin="round" stroke-linecap="butt">
<path stroke="#27a013" d="M750.90 362.96 L752.31 361.00 L753.73 359.03 L755.14 357.04 L756.56 355.05 L757.98 353.04 L759.39 351.04 L760.80 349.03 L762.22 347.02 L763.63 345.02 L765.05 343.02 L766.47 341.04 L767.88 339.07 L769.29 337.11 L770.71 335.18 L772.12 333.27 L773.54 331.39 L774.95 329.54 L776.37 327.72 L777.78 325.94 L779.20 324.20 L780.62 322.51 L782.03 320.87 L783.44 319.28 L784.86 317.74 L786.27 316.26 L787.69 314.84 L789.11 313.48 L790.52 312.20 L791.93 310.98 L793.35 309.84 L794.76 308.77 L796.18 307.78 L797.60 306.87 L799.01 306.04 L800.42 305.29 L801.84 304.63 L803.25 304.05 L804.67 303.57 L806.09 303.17 L807.50 302.86 L808.91 302.64 L810.33 302.51 L811.75 302.47 L813.16 302.52 L814.57 302.66 L815.99 302.89 L817.40 303.20 L818.82 303.60 L820.24 304.08 L821.65 304.65 L823.06 305.30 L824.48 306.02 L825.89 306.82 L827.31 307.69 L828.73 308.63 L830.14 309.64 L831.55 310.71 L832.97 311.84 L834.38 313.03 L835.80 314.26 L837.21 315.55 L838.63 316.88 L840.04 318.25 L841.46 319.65 L842.88 321.08 L844.29 322.54 L845.70 324.02 L847.12 325.52 L848.53 327.03 L849.95 328.54 L851.37 330.06 L852.78 331.58 L854.19 333.09 L855.61 334.59 L857.02 336.07 L858.44 337.54 L859.86 338.97 L861.27 340.38 L862.68 341.76 L864.10 343.10 L865.51 344.40 L866.93 345.65 L868.35 346.86 L869.76 348.01 L871.17 349.11 L872.59 350.15 L874.00 351.12 L875.42 352.04 L876.84 352.88 L878.25 353.66 L879.66 354.36 L881.08 354.98 L882.50 355.53 L883.91 356.01 L885.32 356.40 L886.74 356.70 L888.15 356.93 L889.57 357.07 L890.99 357.12 L892.40 357.08 L893.81 356.96 L895.23 356.74 L896.64 356.44 L898.06 356.04 L899.48 355.56 L900.89 354.98 L902.30 354.31 L903.72 353.54 L905.13 352.69 L906.55 351.74 L907.97 350.70 L909.38 349.56 L910.79 348.33 L912.21 347.02 L913.62 345.60 L915.04 344.10 L916.45 342.50 L917.87 340.81 L919.28 339.04 L920.70 337.17 L922.12 335.20 L923.53 333.15 L924.94 331.01 L926.36 328.78 L927.77 326.46 L929.19 324.06 L930.61 321.56 L932.02 318.98 L933.43 316.31 L934.85 313.55 L936.26 310.71 L937.68 307.78 L939.10 304.77 L940.51 301.67 L941.92 298.49 L943.34 295.23 L944.75 291.88 L946.17 288.46 L947.58 284.95 L949.00 281.37 L950.41 277.70 L951.83 273.96 L953.25 270.15 L954.66 266.25 L956.07 262.29 L957.49 258.25 L958.90 254.14 L960.32 249.97 L961.74 245.72 L963.15 241.41 L964.56 237.04 L965.98 232.60 L967.39 228.10 L968.81 223.55 L970.23 218.94 L971.64 214.28 L973.05 209.57 L974.47 204.82 L975.88 200.02 L977.30 195.17 L978.72 190.30 L980.13 185.38 L981.54 180.44 L982.96 175.47 L984.38 170.48 L985.79 165.47 L987.20 160.45 L988.62 155.41 L990.03 150.38 L991.45 145.34 L992.87 140.31 L994.28 135.29 L995.69 130.28 L997.11 125.29 L998.52 120.34 L999.94 115.41 L1001.36 110.52 L1002.77 105.68 L1004.18 100.89 L1005.60 96.15 L1007.01 91.48 L1008.43 86.87 L1009.85 82.35 L1011.26 77.90 L1012.67 73.54 L1014.09 69.28 L1015.50 65.13 L1016.92 61.08 L1018.34 57.15 L1019.75 53.34 L1021.16 49.66 L1022.58 46.11 L1023.99 42.71 L1025.41 39.46 L1026.83 36.37 L1028.24 33.43 L1029.65 30.67 L1031.07 28.07 L1032.48 25.66 L1033.90 23.44 L1035.32 21.40 L1036.73 19.56 L1038.14 17.92 L1039.56 16.49 L1040.97 15.27 L1042.39 14.26 L1043.80 13.47 L1045.22 12.91 L1046.63 12.56 L1048.05 12.45 L1049.46 12.57 L1050.88 12.91 L1052.30 13.49 L1053.71 14.31 L1055.12 15.36 L1056.54 16.65 L1057.95 18.18 L1059.37 19.94 L1060.78 21.93 L1062.20 24.16 L1063.62 26.62 L1065.03 29.31 L1066.44 32.22 L1067.86 35.36 L1069.28 38.72 L1070.69 42.30 L1072.11 46.08 L1073.52 50.07 L1074.93 54.26 L1076.35 58.65 L1077.76 63.23 L1079.18 67.99 L1080.60 72.93 L1082.01 78.03 L1083.42 83.30 L1084.84 88.71 L1086.26 94.28 L1087.67 99.98 L1089.09 105.81 L1090.50 111.76 L1091.91 117.82 L1093.33 123.99 L1094.74 130.24 L1096.16 136.58 L1097.58 142.99 L1098.99 149.47 L1100.40 156.00 L1101.82 162.58 L1103.24 169.20 L1104.65 175.84 L1106.07 182.49 L1107.48 189.16 L1108.89 195.83 L1110.31 202.48 L1111.72 209.12 L1113.14 215.73 L1114.55 222.30 L1115.97 228.83 L1117.38 235.31 L1118.80 241.73 L1120.21 248.09 L1121.63 254.37 L1123.05 260.57 L1124.46 266.68 L1125.88 272.70 L1127.29 278.63 L1128.70 284.45 L1130.12 290.16 L1131.53 295.77 L1132.95 301.25 L1134.37 306.62 L1135.78 311.86 L1137.19 316.98 L1138.61 321.96 L1140.03 326.82 L1141.44 331.54 L1142.86 336.13 L1144.27 340.58 L1145.68 344.90 L1147.10 349.08 L1148.51 353.12 L1149.93 357.02 L1151.35 360.79 L1152.76 364.43 L1154.17 367.93 L1155.59 371.29 L1157.01 374.52 L1158.42 377.63 L1159.84 380.60 L1161.25 383.45 L1162.66 386.18 L1164.08 388.78 L1165.49 391.27 L1166.91 393.64 L1168.33 395.90 L1169.74 398.04 L1171.15 400.08 L1172.57 402.02 L1173.99 403.86 L1175.40 405.60 L1176.82 407.25 L1178.23 408.80 L1179.64 410.27 L1181.06 411.66 L1182.47 412.96 L1183.89 414.19 L1185.30 415.35 L1186.72 416.43 L1188.13 417.45 L1189.55 418.40 L1190.96 419.29 L1192.38 420.12 L1193.80 420.90 L1195.21 421.62 L1196.62 422.30 L1198.04 422.93 L1199.45 423.51 L1200.87 424.05 L1202.28 424.56 L1203.70 425.02 L1205.12 425.45 L1206.53 425.85 L1207.94 426.22 L1209.36 426.56 L1210.78 426.87 L1212.19 427.16 L1213.61 427.43 L1215.02 427.67 L1216.43 427.89 L1217.85 428.09 L1219.26 428.28 L1220.68 428.45 L1222.10 428.61 L1223.51 428.75 L1224.92 428.88 L1226.34 428.99 L1227.76 429.10 L1229.17 429.20 L1230.59 429.29 L1232.00 429.37 L1233.41 429.44 L1234.83 429.50 L1236.24 429.56 L1237.66 429.61 L1239.08 429.66 L1240.49 429.70 L1241.90 429.74 L1243.32 429.78 L1244.74 429.81 L1246.15 429.84 L1247.57 429.86 L1248.98 429.88 L1250.39 429.90 L1251.81 429.92 L1253.22 429.93 L1254.64 429.95 L1256.05 429.96 L1257.47 429.97 L1258.88 429.98 L1260.30 429.99 L1261.71 430.00 L1263.13 430.00 L1264.55 430.01 L1265.96 430.01 L1267.38 430.02 L1268.79 430.02 L1270.20 430.03 L1271.62 430.03 L1273.03 430.03 L1274.45 430.03 L1275.87 430.04 L1277.28 430.04 L1278.69 430.04 L1280.11 430.04 L1281.53 430.04 L1282.94 430.04 L1284.36 430.04 L1285.77 430.05 L1287.18 430.05 L1288.60 430.05 L1290.01 430.05 L1291.43 430.05 L1292.85 430.05 L1294.26 430.05 L1295.67 430.05 L1297.09 430.05 L1298.51 430.05 L1299.92 430.05 L1301.34 430.05 L1302.75 430.05 L1304.16 430.05 L1305.58 430.05 L1306.99 430.05 L1308.41 430.05 L1309.83 430.05 L1311.24 430.05 L1312.65 430.05 L1314.07 430.05 L1315.49 430.05 L1316.90 430.05"/>
</g>
<path d="M750.90 430.05v7M821.65 430.05v7M892.40 430.05v7M963.15 430.05v7M1033.90 430.05v7M1104.65 430.05v7M1175.40 430.05v7M1246.15 430.05v7M1316.90 430.05v7M750.90 430.05h-7M750.90 346.53h-7M750.90 263.01h-7M750.90 179.49h-7M750.90 95.97h-7M750.90 12.45h-7" stroke="#1a1a1a" stroke-width="1.6" fill="none"/>
<rect x="750.9" y="12.45" width="566.0" height="417.6" fill="none" stroke="#1a1a1a" stroke-width="1.6"/>
<text class="lb" transform="translate(739.1,222.1) rotate(-90)" text-anchor="middle">Relative sensitivity</text>
<text class="pl" x="672.6" y="29.6">B</text>
<g transform="translate(1090,10) scale(0.17215)" fill="#000" stroke="none"><path d="M85.0 98.0L150.0 102.0L230.0 115.0L300.0 135.0L365.0 160.0L420.0 200.0L480.0 245.0L540.0 290.0L575.0 305.0L603.0 300.0L605.0 260.0L615.0 258.0L620.0 270.0L650.0 272.0L690.0 270.0L697.0 258.0L707.0 260.0L710.0 298.0L745.0 305.0L800.0 270.0L870.0 215.0L945.0 165.0L1020.0 135.0L1100.0 112.0L1180.0 97.0L1240.0 95.0L1232.0 140.0L1218.0 185.0L1160.0 235.0L1100.0 290.0L1055.0 335.0L1035.0 362.0L1000.0 362.0L950.0 380.0L900.0 410.0L850.0 450.0L810.0 490.0L790.0 515.0L800.0 535.0L780.0 525.0L740.0 525.0L700.0 540.0L655.0 552.0L610.0 535.0L570.0 515.0L530.0 512.0L510.0 525.0L515.0 505.0L480.0 465.0L430.0 415.0L380.0 380.0L330.0 358.0L290.0 355.0L270.0 325.0L230.0 280.0L180.0 230.0L130.0 190.0L105.0 180.0L95.0 140.0Z"/></g>
<g clip-path="url(#c10)" fill="none" stroke-width="3.7" stroke-linejoin="round" stroke-linecap="butt">
<path stroke="#0b70d0" d="M72.30 799.92 L73.72 795.25 L75.13 790.46 L76.55 785.55 L77.96 780.54 L79.38 775.42 L80.79 770.18 L82.20 764.85 L83.62 759.40 L85.03 753.85 L86.45 748.21 L87.86 742.46 L89.28 736.62 L90.69 730.69 L92.11 724.68 L93.52 718.58 L94.94 712.40 L96.36 706.16 L97.77 699.85 L99.19 693.48 L100.60 687.06 L102.02 680.59 L103.43 674.09 L104.84 667.56 L106.26 661.01 L107.67 654.45 L109.09 647.88 L110.50 641.33 L111.92 634.80 L113.33 628.30 L114.75 621.84 L116.16 615.44 L117.58 609.10 L119.00 602.85 L120.41 596.69 L121.82 590.64 L123.24 584.71 L124.66 578.92 L126.07 573.28 L127.48 567.81 L128.90 562.52 L130.31 557.43 L131.73 552.54 L133.14 547.89 L134.56 543.47 L135.97 539.31 L137.39 535.43 L138.81 531.83 L140.22 528.53 L141.63 525.54 L143.05 522.88 L144.47 520.57 L145.88 518.60 L147.30 516.99 L148.71 515.76 L150.12 514.91 L151.54 514.46 L152.95 514.40 L154.37 514.75 L155.78 515.51 L157.20 516.68 L158.62 518.27 L160.03 520.28 L161.44 522.70 L162.86 525.55 L164.28 528.80 L165.69 532.47 L167.11 536.55 L168.52 541.02 L169.94 545.88 L171.35 551.11 L172.76 556.72 L174.18 562.68 L175.59 568.98 L177.01 575.60 L178.43 582.53 L179.84 589.75 L181.25 597.24 L182.67 604.99 L184.09 612.96 L185.50 621.14 L186.92 629.51 L188.33 638.05 L189.75 646.73 L191.16 655.52 L192.57 664.41 L193.99 673.37 L195.41 682.38 L196.82 691.42 L198.24 700.46 L199.65 709.47 L201.06 718.45 L202.48 727.36 L203.89 736.19 L205.31 744.91 L206.72 753.51 L208.14 761.98 L209.56 770.28 L210.97 778.42 L212.38 786.37 L213.80 794.13 L215.21 801.67 L216.63 809.00 L218.05 816.09 L219.46 822.96 L220.88 829.57 L222.29 835.95 L223.70 842.07 L225.12 847.94 L226.54 853.55 L227.95 858.91 L229.37 864.01 L230.78 868.87 L232.19 873.47 L233.61 877.83 L235.02 881.95 L236.44 885.83 L237.85 889.49 L239.27 892.92 L240.69 896.13 L242.10 899.14 L243.51 901.94 L244.93 904.55 L246.34 906.98 L247.76 909.23 L249.18 911.32 L250.59 913.24 L252.00 915.02 L253.42 916.65 L254.83 918.15 L256.25 919.53 L257.67 920.78 L259.08 921.93 L260.50 922.97 L261.91 923.92 L263.32 924.78 L264.74 925.56 L266.16 926.27 L267.57 926.91 L268.98 927.48 L270.40 927.99 L271.81 928.45 L273.23 928.87 L274.64 929.24 L276.06 929.57 L277.47 929.86 L278.89 930.12 L280.31 930.35 L281.72 930.56 L283.13 930.74 L284.55 930.90 L285.96 931.04 L287.38 931.16 L288.80 931.27 L290.21 931.36 L291.62 931.45 L293.04 931.52 L294.45 931.58 L295.87 931.64 L297.29 931.69 L298.70 931.73 L300.12 931.77 L301.53 931.80 L302.94 931.83 L304.36 931.85 L305.77 931.87 L307.19 931.89 L308.60 931.90 L310.02 931.92 L311.44 931.93 L312.85 931.94 L314.26 931.95 L315.68 931.96 L317.09 931.96 L318.51 931.97 L319.93 931.97 L321.34 931.98 L322.75 931.98 L324.17 931.98 L325.58 931.98 L327.00 931.99 L328.42 931.99 L329.83 931.99 L331.25 931.99 L332.66 931.99 L334.08 931.99 L335.49 931.99 L336.91 932.00 L338.32 932.00 L339.74 932.00 L341.15 932.00 L342.56 932.00 L343.98 932.00 L345.39 932.00 L346.81 932.00 L348.23 932.00 L349.64 932.00 L351.06 932.00 L352.47 932.00 L353.88 932.00 L355.30 932.00 L356.71 932.00 L358.13 932.00 L359.54 932.00 L360.96 932.00 L362.38 932.00 L363.79 932.00 L365.20 932.00 L366.62 932.00 L368.03 932.00 L369.45 932.00 L370.87 932.00 L372.28 932.00 L373.69 932.00 L375.11 932.00 L376.52 932.00 L377.94 932.00 L379.36 932.00 L380.77 932.00 L382.19 932.00 L383.60 932.00 L385.01 932.00 L386.43 932.00 L387.85 932.00 L389.26 932.00 L390.68 932.00 L392.09 932.00 L393.50 932.00 L394.92 932.00 L396.34 932.00 L397.75 932.00 L399.17 932.00 L400.58 932.00 L402.00 932.00 L403.41 932.00 L404.83 932.00 L406.24 932.00 L407.66 932.00 L409.07 932.00 L410.49 932.00 L411.90 932.00 L413.32 932.00 L414.73 932.00 L416.15 932.00 L417.56 932.00 L418.98 932.00 L420.39 932.00 L421.81 932.00 L423.22 932.00 L424.64 932.00 L426.05 932.00 L427.46 932.00 L428.88 932.00 L430.29 932.00 L431.71 932.00 L433.12 932.00 L434.54 932.00 L435.95 932.00 L437.37 932.00 L438.78 932.00 L440.20 932.00 L441.62 932.00 L443.03 932.00 L444.44 932.00 L445.86 932.00 L447.27 932.00 L448.69 932.00 L450.11 932.00 L451.52 932.00 L452.94 932.00 L454.35 932.00 L455.76 932.00 L457.18 932.00 L458.60 932.00 L460.01 932.00 L461.43 932.00 L462.84 932.00 L464.25 932.00 L465.67 932.00 L467.09 932.00 L468.50 932.00 L469.92 932.00 L471.33 932.00 L472.75 932.00 L474.16 932.00 L475.58 932.00 L476.99 932.00 L478.41 932.00 L479.82 932.00 L481.24 932.00 L482.65 932.00 L484.07 932.00 L485.48 932.00 L486.90 932.00 L488.31 932.00 L489.73 932.00 L491.14 932.00 L492.56 932.00 L493.97 932.00 L495.39 932.00 L496.80 932.00 L498.21 932.00 L499.63 932.00 L501.04 932.00 L502.46 932.00 L503.88 932.00 L505.29 932.00 L506.70 932.00 L508.12 932.00 L509.53 932.00 L510.95 932.00 L512.37 932.00 L513.78 932.00 L515.19 932.00 L516.61 932.00 L518.02 932.00 L519.44 932.00 L520.86 932.00 L522.27 932.00 L523.68 932.00 L525.10 932.00 L526.51 932.00 L527.93 932.00 L529.35 932.00 L530.76 932.00 L532.17 932.00 L533.59 932.00 L535.00 932.00 L536.42 932.00 L537.84 932.00 L539.25 932.00 L540.66 932.00 L542.08 932.00 L543.50 932.00 L544.91 932.00 L546.33 932.00 L547.74 932.00 L549.15 932.00 L550.57 932.00 L551.99 932.00 L553.40 932.00 L554.82 932.00 L556.23 932.00 L557.64 932.00 L559.06 932.00 L560.48 932.00 L561.89 932.00 L563.31 932.00 L564.72 932.00 L566.13 932.00 L567.55 932.00 L568.96 932.00 L570.38 932.00 L571.79 932.00 L573.21 932.00 L574.62 932.00 L576.04 932.00 L577.45 932.00 L578.87 932.00 L580.28 932.00 L581.70 932.00 L583.12 932.00 L584.53 932.00 L585.94 932.00 L587.36 932.00 L588.77 932.00 L590.19 932.00 L591.60 932.00 L593.02 932.00 L594.43 932.00 L595.85 932.00 L597.26 932.00 L598.68 932.00 L600.09 932.00 L601.51 932.00 L602.92 932.00 L604.34 932.00 L605.75 932.00 L607.17 932.00 L608.58 932.00 L610.00 932.00 L611.41 932.00 L612.83 932.00 L614.25 932.00 L615.66 932.00 L617.07 932.00 L618.49 932.00 L619.90 932.00 L621.32 932.00 L622.74 932.00 L624.15 932.00 L625.56 932.00 L626.98 932.00 L628.39 932.00 L629.81 932.00 L631.23 932.00 L632.64 932.00 L634.05 932.00 L635.47 932.00 L636.88 932.00 L638.30 932.00"/>
<path stroke="#dd0a0a" d="M72.30 864.91 L73.72 862.95 L75.13 860.98 L76.55 858.99 L77.96 857.00 L79.38 854.99 L80.79 852.99 L82.20 850.98 L83.62 848.97 L85.03 846.97 L86.45 844.97 L87.86 842.99 L89.28 841.02 L90.69 839.06 L92.11 837.13 L93.52 835.22 L94.94 833.34 L96.36 831.49 L97.77 829.67 L99.19 827.89 L100.60 826.15 L102.02 824.46 L103.43 822.82 L104.84 821.23 L106.26 819.69 L107.67 818.21 L109.09 816.79 L110.50 815.43 L111.92 814.15 L113.33 812.93 L114.75 811.79 L116.16 810.72 L117.58 809.73 L119.00 808.82 L120.41 807.99 L121.82 807.24 L123.24 806.58 L124.66 806.00 L126.07 805.52 L127.48 805.12 L128.90 804.81 L130.31 804.59 L131.73 804.46 L133.14 804.42 L134.56 804.47 L135.97 804.61 L137.39 804.84 L138.81 805.15 L140.22 805.55 L141.63 806.03 L143.05 806.60 L144.47 807.25 L145.88 807.97 L147.30 808.77 L148.71 809.64 L150.12 810.58 L151.54 811.59 L152.95 812.66 L154.37 813.79 L155.78 814.98 L157.20 816.21 L158.62 817.50 L160.03 818.83 L161.44 820.20 L162.86 821.60 L164.28 823.03 L165.69 824.49 L167.11 825.97 L168.52 827.47 L169.94 828.98 L171.35 830.49 L172.76 832.01 L174.18 833.53 L175.59 835.04 L177.01 836.54 L178.43 838.02 L179.84 839.49 L181.25 840.92 L182.67 842.33 L184.09 843.71 L185.50 845.05 L186.92 846.35 L188.33 847.60 L189.75 848.81 L191.16 849.96 L192.57 851.06 L193.99 852.10 L195.41 853.07 L196.82 853.99 L198.24 854.83 L199.65 855.61 L201.06 856.31 L202.48 856.93 L203.89 857.48 L205.31 857.96 L206.72 858.35 L208.14 858.65 L209.56 858.88 L210.97 859.02 L212.38 859.07 L213.80 859.03 L215.21 858.91 L216.63 858.69 L218.05 858.39 L219.46 857.99 L220.88 857.51 L222.29 856.93 L223.70 856.26 L225.12 855.49 L226.54 854.64 L227.95 853.69 L229.37 852.65 L230.78 851.51 L232.19 850.28 L233.61 848.97 L235.02 847.55 L236.44 846.05 L237.85 844.45 L239.27 842.76 L240.69 840.99 L242.10 839.12 L243.51 837.15 L244.93 835.10 L246.34 832.96 L247.76 830.73 L249.18 828.41 L250.59 826.01 L252.00 823.51 L253.42 820.93 L254.83 818.26 L256.25 815.50 L257.67 812.66 L259.08 809.73 L260.50 806.72 L261.91 803.62 L263.32 800.44 L264.74 797.18 L266.16 793.83 L267.57 790.41 L268.98 786.90 L270.40 783.32 L271.81 779.65 L273.23 775.91 L274.64 772.10 L276.06 768.20 L277.47 764.24 L278.89 760.20 L280.31 756.09 L281.72 751.92 L283.13 747.67 L284.55 743.36 L285.96 738.99 L287.38 734.55 L288.80 730.05 L290.21 725.50 L291.62 720.89 L293.04 716.23 L294.45 711.52 L295.87 706.77 L297.29 701.97 L298.70 697.12 L300.12 692.25 L301.53 687.33 L302.94 682.39 L304.36 677.42 L305.77 672.43 L307.19 667.42 L308.60 662.40 L310.02 657.36 L311.44 652.33 L312.85 647.29 L314.26 642.26 L315.68 637.24 L317.09 632.23 L318.51 627.24 L319.93 622.29 L321.34 617.36 L322.75 612.47 L324.17 607.63 L325.58 602.84 L327.00 598.10 L328.42 593.43 L329.83 588.82 L331.25 584.30 L332.66 579.85 L334.08 575.49 L335.49 571.23 L336.91 567.08 L338.32 563.03 L339.74 559.10 L341.15 555.29 L342.56 551.61 L343.98 548.06 L345.39 544.66 L346.81 541.41 L348.23 538.32 L349.64 535.38 L351.06 532.62 L352.47 530.02 L353.88 527.61 L355.30 525.39 L356.71 523.35 L358.13 521.51 L359.54 519.87 L360.96 518.44 L362.38 517.22 L363.79 516.21 L365.20 515.42 L366.62 514.86 L368.03 514.51 L369.45 514.40 L370.87 514.52 L372.28 514.86 L373.69 515.44 L375.11 516.26 L376.52 517.31 L377.94 518.60 L379.36 520.13 L380.77 521.89 L382.19 523.88 L383.60 526.11 L385.01 528.57 L386.43 531.26 L387.85 534.17 L389.26 537.31 L390.68 540.67 L392.09 544.25 L393.50 548.03 L394.92 552.02 L396.34 556.21 L397.75 560.60 L399.17 565.18 L400.58 569.94 L402.00 574.88 L403.41 579.98 L404.83 585.25 L406.24 590.66 L407.66 596.23 L409.07 601.93 L410.49 607.76 L411.90 613.71 L413.32 619.77 L414.73 625.94 L416.15 632.19 L417.56 638.53 L418.98 644.94 L420.39 651.42 L421.81 657.95 L423.22 664.53 L424.64 671.15 L426.05 677.79 L427.46 684.44 L428.88 691.11 L430.29 697.78 L431.71 704.43 L433.12 711.07 L434.54 717.68 L435.95 724.25 L437.37 730.78 L438.78 737.26 L440.20 743.68 L441.62 750.04 L443.03 756.32 L444.44 762.52 L445.86 768.63 L447.27 774.65 L448.69 780.58 L450.11 786.40 L451.52 792.11 L452.94 797.72 L454.35 803.20 L455.76 808.57 L457.18 813.81 L458.60 818.93 L460.01 823.91 L461.43 828.77 L462.84 833.49 L464.25 838.08 L465.67 842.53 L467.09 846.85 L468.50 851.03 L469.92 855.07 L471.33 858.97 L472.75 862.74 L474.16 866.38 L475.58 869.88 L476.99 873.24 L478.41 876.47 L479.82 879.58 L481.24 882.55 L482.65 885.40 L484.07 888.13 L485.48 890.73 L486.90 893.22 L488.31 895.59 L489.73 897.85 L491.14 899.99 L492.56 902.03 L493.97 903.97 L495.39 905.81 L496.80 907.55 L498.21 909.20 L499.63 910.75 L501.04 912.22 L502.46 913.61 L503.88 914.91 L505.29 916.14 L506.70 917.30 L508.12 918.38 L509.53 919.40 L510.95 920.35 L512.37 921.24 L513.78 922.07 L515.19 922.85 L516.61 923.57 L518.02 924.25 L519.44 924.88 L520.86 925.46 L522.27 926.00 L523.68 926.51 L525.10 926.97 L526.51 927.40 L527.93 927.80 L529.35 928.17 L530.76 928.51 L532.17 928.82 L533.59 929.11 L535.00 929.38 L536.42 929.62 L537.84 929.84 L539.25 930.04 L540.66 930.23 L542.08 930.40 L543.50 930.56 L544.91 930.70 L546.33 930.83 L547.74 930.94 L549.15 931.05 L550.57 931.15 L551.99 931.24 L553.40 931.32 L554.82 931.39 L556.23 931.45 L557.64 931.51 L559.06 931.56 L560.48 931.61 L561.89 931.65 L563.31 931.69 L564.72 931.73 L566.13 931.76 L567.55 931.79 L568.96 931.81 L570.38 931.83 L571.79 931.85 L573.21 931.87 L574.62 931.88 L576.04 931.90 L577.45 931.91 L578.87 931.92 L580.28 931.93 L581.70 931.94 L583.12 931.95 L584.53 931.95 L585.94 931.96 L587.36 931.96 L588.77 931.97 L590.19 931.97 L591.60 931.98 L593.02 931.98 L594.43 931.98 L595.85 931.98 L597.26 931.99 L598.68 931.99 L600.09 931.99 L601.51 931.99 L602.92 931.99 L604.34 931.99 L605.75 931.99 L607.17 932.00 L608.58 932.00 L610.00 932.00 L611.41 932.00 L612.83 932.00 L614.25 932.00 L615.66 932.00 L617.07 932.00 L618.49 932.00 L619.90 932.00 L621.32 932.00 L622.74 932.00 L624.15 932.00 L625.56 932.00 L626.98 932.00 L628.39 932.00 L629.81 932.00 L631.23 932.00 L632.64 932.00 L634.05 932.00 L635.47 932.00 L636.88 932.00 L638.30 932.00"/>
</g>
<path d="M72.30 932.00v7M143.05 932.00v7M213.80 932.00v7M284.55 932.00v7M355.30 932.00v7M426.05 932.00v7M496.80 932.00v7M567.55 932.00v7M638.30 932.00v7M72.30 932.00h-7M72.30 848.48h-7M72.30 764.96h-7M72.30 681.44h-7M72.30 597.92h-7M72.30 514.40h-7" stroke="#1a1a1a" stroke-width="1.6" fill="none"/>
<rect x="72.3" y="514.4" width="566.0" height="417.6" fill="none" stroke="#1a1a1a" stroke-width="1.6"/>
<text class="tk" x="58.7" y="938.8" text-anchor="end">0.0</text>
<text class="tk" x="58.7" y="855.3" text-anchor="end">0.2</text>
<text class="tk" x="58.7" y="771.8" text-anchor="end">0.4</text>
<text class="tk" x="58.7" y="688.2" text-anchor="end">0.6</text>
<text class="tk" x="58.7" y="604.7" text-anchor="end">0.8</text>
<text class="tk" x="58.7" y="521.2" text-anchor="end">1.0</text>
<text class="pl" x="1.8" y="493.0">C</text>
<g transform="translate(440,530) scale(0.14970)" fill="#000" stroke="none"><path d="M95.0 185.0C101.3 177.8 112.5 174.8 130.0 172.0C147.5 169.2 176.7 168.0 200.0 168.0C223.3 168.0 252.5 170.3 270.0 172.0C287.5 173.7 296.7 180.8 305.0 178.0C313.3 175.2 314.5 160.5 320.0 155.0C325.5 149.5 333.8 140.0 338.0 145.0C342.2 150.0 338.0 175.8 345.0 185.0C352.0 194.2 365.8 198.3 380.0 200.0C394.2 201.7 413.3 200.0 430.0 195.0C446.7 190.0 463.3 180.0 480.0 170.0C496.7 160.0 513.3 143.3 530.0 135.0C546.7 126.7 561.7 122.8 580.0 120.0C598.3 117.2 620.0 117.2 640.0 118.0C660.0 118.8 681.7 119.7 700.0 125.0C718.3 130.3 735.0 140.0 750.0 150.0C765.0 160.0 778.3 171.7 790.0 185.0C801.7 198.3 810.8 214.2 820.0 230.0C829.2 245.8 838.7 261.7 845.0 280.0C851.3 298.3 855.5 320.0 858.0 340.0C860.5 360.0 858.0 385.0 860.0 400.0C862.0 415.0 863.3 420.8 870.0 430.0C876.7 439.2 885.0 448.0 900.0 455.0C915.0 462.0 936.7 467.8 960.0 472.0C983.3 476.2 1015.0 477.3 1040.0 480.0C1065.0 482.7 1088.3 484.3 1110.0 488.0C1131.7 491.7 1153.3 495.8 1170.0 502.0C1186.7 508.2 1200.3 516.2 1210.0 525.0C1219.7 533.8 1227.2 545.0 1228.0 555.0C1228.8 565.0 1224.7 575.8 1215.0 585.0C1205.3 594.2 1189.2 601.7 1170.0 610.0C1150.8 618.3 1121.7 627.5 1100.0 635.0C1078.3 642.5 1056.7 648.8 1040.0 655.0C1023.3 661.2 1009.2 666.2 1000.0 672.0C990.8 677.8 984.2 682.8 985.0 690.0C985.8 697.2 1003.3 709.7 1005.0 715.0C1006.7 720.3 1000.8 724.5 995.0 722.0C989.2 719.5 974.5 707.8 970.0 700.0C965.5 692.2 964.7 682.5 968.0 675.0C971.3 667.5 978.0 662.2 990.0 655.0C1002.0 647.8 1021.7 639.5 1040.0 632.0C1058.3 624.5 1080.0 617.8 1100.0 610.0C1120.0 602.2 1144.2 593.3 1160.0 585.0C1175.8 576.7 1190.0 567.5 1195.0 560.0C1200.0 552.5 1197.5 545.8 1190.0 540.0C1182.5 534.2 1168.3 529.2 1150.0 525.0C1131.7 520.8 1105.0 517.5 1080.0 515.0C1055.0 512.5 1026.7 510.5 1000.0 510.0C973.3 509.5 942.5 510.3 920.0 512.0C897.5 513.7 875.8 516.2 865.0 520.0C854.2 523.8 862.5 530.8 855.0 535.0C847.5 539.2 835.8 543.3 820.0 545.0C804.2 546.7 776.7 542.5 760.0 545.0C743.3 547.5 725.0 552.5 720.0 560.0C715.0 567.5 733.3 586.7 730.0 590.0C726.7 593.3 707.5 577.5 700.0 580.0C692.5 582.5 690.8 603.3 685.0 605.0C679.2 606.7 672.5 590.0 665.0 590.0C657.5 590.0 645.8 605.0 640.0 605.0C634.2 605.0 635.0 591.7 630.0 590.0C625.0 588.3 615.0 598.3 610.0 595.0C605.0 591.7 611.7 572.5 600.0 570.0C588.3 567.5 561.7 575.8 540.0 580.0C518.3 584.2 491.7 590.0 470.0 595.0C448.3 600.0 424.2 605.0 410.0 610.0C395.8 615.0 390.0 620.0 385.0 625.0C380.0 630.0 385.8 638.8 380.0 640.0C374.2 641.2 357.5 631.2 350.0 632.0C342.5 632.8 340.0 645.0 335.0 645.0C330.0 645.0 326.7 633.7 320.0 632.0C313.3 630.3 298.3 637.3 295.0 635.0C291.7 632.7 292.5 622.2 300.0 618.0C307.5 613.8 328.3 615.5 340.0 610.0C351.7 604.5 364.2 593.3 370.0 585.0C375.8 576.7 378.3 567.5 375.0 560.0C371.7 552.5 362.5 542.5 350.0 540.0C337.5 537.5 314.2 541.7 300.0 545.0C285.8 548.3 275.0 554.2 265.0 560.0C255.0 565.8 248.3 575.0 240.0 580.0C231.7 585.0 222.5 589.7 215.0 590.0C207.5 590.3 203.3 582.0 195.0 582.0C186.7 582.0 172.5 590.7 165.0 590.0C157.5 589.3 146.7 583.0 150.0 578.0C153.3 573.0 172.5 563.8 185.0 560.0C197.5 556.2 215.0 561.7 225.0 555.0C235.0 548.3 239.2 534.2 245.0 520.0C250.8 505.8 259.2 488.3 260.0 470.0C260.8 451.7 256.7 428.3 250.0 410.0C243.3 391.7 233.3 375.0 220.0 360.0C206.7 345.0 185.0 332.5 170.0 320.0C155.0 307.5 140.8 297.5 130.0 285.0C119.2 272.5 111.3 256.7 105.0 245.0C98.7 233.3 93.7 225.0 92.0 215.0C90.3 205.0 88.7 192.2 95.0 185.0Z"/></g>
<g clip-path="url(#c11)" fill="none" stroke-width="3.7" stroke-linejoin="round" stroke-linecap="butt">
<path stroke="#0b70d0" d="M750.90 772.77 L757.98 743.57 L765.05 711.66 L772.12 677.74 L779.20 642.89 L786.27 608.58 L793.35 576.63 L800.42 549.14 L807.50 528.31 L814.57 516.19 L821.65 514.40 L828.73 523.85 L835.80 544.51 L842.88 575.31 L849.95 614.19 L857.02 658.35 L864.10 704.64 L871.17 749.95 L878.25 791.65 L885.32 827.90 L892.40 857.74 L899.48 881.03 L906.55 898.31 L913.62 910.52 L920.70 918.75 L927.77 924.07 L934.85 927.37 L941.92 929.35 L949.00 930.51 L956.07 931.17 L963.15 931.54 L970.23 931.75 L977.30 931.86 L984.38 931.93 L991.45 931.96 L998.52 931.98 L1005.60 931.99 L1012.67 931.99 L1019.75 932.00 L1026.83 932.00 L1033.90 932.00 L1040.97 932.00 L1048.05 932.00 L1055.12 932.00 L1062.20 932.00 L1069.28 932.00 L1076.35 932.00 L1083.42 932.00 L1090.50 932.00 L1097.58 932.00 L1104.65 932.00 L1111.72 932.00 L1118.80 932.00 L1125.88 932.00 L1132.95 932.00 L1140.03 932.00 L1147.10 932.00 L1154.17 932.00 L1161.25 932.00 L1168.33 932.00 L1175.40 932.00 L1182.47 932.00 L1189.55 932.00 L1196.62 932.00 L1203.70 932.00 L1210.78 932.00 L1217.85 932.00 L1224.92 932.00 L1232.00 932.00 L1239.08 932.00 L1246.15 932.00 L1253.22 932.00 L1260.30 932.00 L1267.38 932.00 L1274.45 932.00 L1281.53 932.00 L1288.60 932.00 L1295.67 932.00 L1302.75 932.00 L1309.83 932.00 L1316.90 932.00"/>
<path stroke="#27a013" d="M750.90 864.76 L757.98 854.79 L765.05 844.69 L772.12 834.86 L779.20 825.71 L786.27 817.66 L793.35 811.12 L800.42 806.45 L807.50 803.88 L814.57 803.51 L821.65 805.32 L828.73 809.08 L835.80 814.46 L842.88 820.99 L849.95 828.11 L857.02 835.23 L864.10 841.79 L871.17 847.25 L878.25 851.16 L885.32 853.17 L892.40 853.01 L899.48 850.52 L906.55 845.61 L913.62 838.26 L920.70 828.47 L927.77 816.31 L934.85 801.83 L941.92 785.14 L949.00 766.35 L956.07 745.64 L963.15 723.23 L970.23 699.41 L977.30 674.59 L984.38 649.25 L991.45 623.98 L998.52 599.49 L1005.60 576.56 L1012.67 556.03 L1019.75 538.76 L1026.83 525.60 L1033.90 517.28 L1040.97 514.40 L1048.05 517.37 L1055.12 526.34 L1062.20 541.19 L1069.28 561.49 L1076.35 586.57 L1083.42 615.50 L1090.50 647.18 L1097.58 680.42 L1104.65 714.02 L1111.72 746.84 L1118.80 777.89 L1125.88 806.40 L1132.95 831.82 L1140.03 853.84 L1147.10 872.39 L1154.17 887.57 L1161.25 899.66 L1168.33 909.02 L1175.40 916.07 L1182.47 921.23 L1189.55 924.90 L1196.62 927.44 L1203.70 929.15 L1210.78 930.26 L1217.85 930.97 L1224.92 931.41 L1232.00 931.67 L1239.08 931.82 L1246.15 931.90 L1253.22 931.95 L1260.30 931.98 L1267.38 931.99 L1274.45 931.99 L1281.53 932.00 L1288.60 932.00 L1295.67 932.00 L1302.75 932.00 L1309.83 932.00 L1316.90 932.00"/>
<path stroke="#dd0a0a" d="M750.90 865.31 L757.98 855.64 L765.05 845.94 L772.12 836.59 L779.20 828.02 L786.27 820.65 L793.35 814.91 L800.42 811.12 L807.50 809.55 L814.57 810.32 L821.65 813.39 L828.73 818.59 L835.80 825.60 L842.88 834.00 L849.95 843.26 L857.02 852.87 L864.10 862.31 L871.17 871.10 L878.25 878.89 L885.32 885.37 L892.40 890.40 L899.48 893.87 L906.55 895.79 L913.62 896.21 L920.70 895.20 L927.77 892.86 L934.85 889.26 L941.92 884.47 L949.00 878.52 L956.07 871.42 L963.15 863.16 L970.23 853.68 L977.30 842.95 L984.38 830.90 L991.45 817.48 L998.52 802.63 L1005.60 786.35 L1012.67 768.63 L1019.75 749.54 L1026.83 729.16 L1033.90 707.68 L1040.97 685.32 L1048.05 662.39 L1055.12 639.30 L1062.20 616.49 L1069.28 594.52 L1076.35 573.98 L1083.42 555.48 L1090.50 539.69 L1097.58 527.21 L1104.65 518.62 L1111.72 514.40 L1118.80 514.89 L1125.88 520.29 L1132.95 530.62 L1140.03 545.69 L1147.10 565.12 L1154.17 588.37 L1161.25 614.72 L1168.33 643.35 L1175.40 673.37 L1182.47 703.89 L1189.55 734.03 L1196.62 763.01 L1203.70 790.19 L1210.78 815.06 L1217.85 837.27 L1224.92 856.65 L1232.00 873.17 L1239.08 886.94 L1246.15 898.15 L1253.22 907.07 L1260.30 914.00 L1267.38 919.27 L1274.45 923.18 L1281.53 926.02 L1288.60 928.03 L1295.67 929.42 L1302.75 930.36 L1309.83 930.98 L1316.90 931.38"/>
</g>
<path d="M750.90 932.00v7M821.65 932.00v7M892.40 932.00v7M963.15 932.00v7M1033.90 932.00v7M1104.65 932.00v7M1175.40 932.00v7M1246.15 932.00v7M1316.90 932.00v7M750.90 932.00h-7M750.90 848.48h-7M750.90 764.96h-7M750.90 681.44h-7M750.90 597.92h-7M750.90 514.40h-7" stroke="#1a1a1a" stroke-width="1.6" fill="none"/>
<rect x="750.9" y="514.4" width="566.0" height="417.6" fill="none" stroke="#1a1a1a" stroke-width="1.6"/>
<text class="pl" x="672.0" y="492.3">D</text>
<g transform="translate(1130,505) scale(0.14970)" fill="#000" stroke="none"><path d="M120.0 305.0C126.7 296.3 151.7 283.3 170.0 270.0C188.3 256.7 211.7 240.0 230.0 225.0C248.3 210.0 265.0 192.5 280.0 180.0C295.0 167.5 312.5 160.8 320.0 150.0C327.5 139.2 320.8 123.8 325.0 115.0C329.2 106.2 335.8 100.7 345.0 97.0C354.2 93.3 370.0 91.7 380.0 93.0C390.0 94.3 400.0 98.8 405.0 105.0C410.0 111.2 411.7 121.7 410.0 130.0C408.3 138.3 391.7 149.2 395.0 155.0C398.3 160.8 421.7 160.0 430.0 165.0C438.3 170.0 433.3 182.5 445.0 185.0C456.7 187.5 480.8 178.3 500.0 180.0C519.2 181.7 541.7 187.5 560.0 195.0C578.3 202.5 595.0 213.3 610.0 225.0C625.0 236.7 638.3 252.5 650.0 265.0C661.7 277.5 670.0 289.2 680.0 300.0C690.0 310.8 696.7 321.7 710.0 330.0C723.3 338.3 740.0 343.3 760.0 350.0C780.0 356.7 806.7 363.3 830.0 370.0C853.3 376.7 875.0 381.7 900.0 390.0C925.0 398.3 953.3 408.3 980.0 420.0C1006.7 431.7 1035.0 445.8 1060.0 460.0C1085.0 474.2 1108.3 489.2 1130.0 505.0C1151.7 520.8 1173.7 538.3 1190.0 555.0C1206.3 571.7 1220.0 589.2 1228.0 605.0C1236.0 620.8 1238.5 635.8 1238.0 650.0C1237.5 664.2 1233.0 679.7 1225.0 690.0C1217.0 700.3 1202.5 707.8 1190.0 712.0C1177.5 716.2 1163.3 717.0 1150.0 715.0C1136.7 713.0 1120.3 707.5 1110.0 700.0C1099.7 692.5 1091.3 679.2 1088.0 670.0C1084.7 660.8 1086.3 651.3 1090.0 645.0C1093.7 638.7 1108.3 631.2 1110.0 632.0C1111.7 632.8 1100.8 642.8 1100.0 650.0C1099.2 657.2 1100.0 667.5 1105.0 675.0C1110.0 682.5 1120.0 690.8 1130.0 695.0C1140.0 699.2 1153.3 701.7 1165.0 700.0C1176.7 698.3 1191.7 693.3 1200.0 685.0C1208.3 676.7 1214.2 662.5 1215.0 650.0C1215.8 637.5 1212.5 624.2 1205.0 610.0C1197.5 595.8 1185.8 579.2 1170.0 565.0C1154.2 550.8 1131.7 538.3 1110.0 525.0C1088.3 511.7 1065.0 497.5 1040.0 485.0C1015.0 472.5 986.7 460.0 960.0 450.0C933.3 440.0 906.7 432.5 880.0 425.0C853.3 417.5 826.7 409.2 800.0 405.0C773.3 400.8 745.0 401.7 720.0 400.0C695.0 398.3 671.7 393.3 650.0 395.0C628.3 396.7 610.0 405.0 590.0 410.0C570.0 415.0 545.8 420.0 530.0 425.0C514.2 430.0 504.2 435.0 495.0 440.0C485.8 445.0 483.3 452.0 475.0 455.0C466.7 458.0 451.7 459.7 445.0 458.0C438.3 456.3 431.7 448.8 435.0 445.0C438.3 441.2 461.7 439.2 465.0 435.0C468.3 430.8 460.8 421.7 455.0 420.0C449.2 418.3 437.5 420.8 430.0 425.0C422.5 429.2 419.2 441.3 410.0 445.0C400.8 448.7 383.3 448.7 375.0 447.0C366.7 445.3 358.3 438.7 360.0 435.0C361.7 431.3 382.5 428.8 385.0 425.0C387.5 421.2 373.3 417.0 375.0 412.0C376.7 407.0 402.5 397.8 395.0 395.0C387.5 392.2 350.8 394.2 330.0 395.0C309.2 395.8 283.3 396.7 270.0 400.0C256.7 403.3 255.0 409.7 250.0 415.0C245.0 420.3 243.3 431.5 240.0 432.0C236.7 432.5 234.2 419.2 230.0 418.0C225.8 416.8 220.0 426.3 215.0 425.0C210.0 423.7 198.3 415.8 200.0 410.0C201.7 404.2 213.3 395.0 225.0 390.0C236.7 385.0 254.2 383.3 270.0 380.0C285.8 376.7 310.0 375.8 320.0 370.0C330.0 364.2 336.7 352.5 330.0 345.0C323.3 337.5 298.3 328.8 280.0 325.0C261.7 321.2 240.0 322.0 220.0 322.0C200.0 322.0 175.0 325.0 160.0 325.0C145.0 325.0 136.7 325.3 130.0 322.0C123.3 318.7 113.3 313.7 120.0 305.0Z"/></g>
<g clip-path="url(#c20)" fill="none" stroke-width="3.7" stroke-linejoin="round" stroke-linecap="butt">
<path stroke="#0b70d0" d="M72.30 1252.68 L79.38 1220.42 L86.45 1185.81 L93.52 1149.97 L100.60 1114.44 L107.67 1081.17 L114.75 1052.42 L121.82 1030.57 L128.90 1017.82 L135.97 1015.90 L143.05 1025.73 L150.12 1047.18 L157.20 1079.02 L164.28 1118.96 L171.35 1163.97 L178.43 1210.70 L185.50 1255.97 L192.57 1297.20 L199.65 1332.64 L206.72 1361.51 L213.80 1383.85 L220.88 1400.33 L227.95 1411.95 L235.02 1419.83 L242.10 1424.99 L249.18 1428.28 L256.25 1430.33 L263.32 1431.59 L270.40 1432.36 L277.47 1432.83 L284.55 1433.11 L291.62 1433.27 L298.70 1433.37 L305.77 1433.43 L312.85 1433.46 L319.93 1433.48 L327.00 1433.49 L334.08 1433.49 L341.15 1433.50 L348.23 1433.50 L355.30 1433.50 L362.38 1433.50 L369.45 1433.50 L376.52 1433.50 L383.60 1433.50 L390.68 1433.50 L397.75 1433.50 L404.83 1433.50 L411.90 1433.50 L418.98 1433.50 L426.05 1433.50 L433.12 1433.50 L440.20 1433.50 L447.27 1433.50 L454.35 1433.50 L461.43 1433.50 L468.50 1433.50 L475.58 1433.50 L482.65 1433.50 L489.73 1433.50 L496.80 1433.50 L503.88 1433.50 L510.95 1433.50 L518.02 1433.50 L525.10 1433.50 L532.17 1433.50 L539.25 1433.50 L546.33 1433.50 L553.40 1433.50 L560.48 1433.50 L567.55 1433.50 L574.62 1433.50 L581.70 1433.50 L588.77 1433.50 L595.85 1433.50 L602.92 1433.50 L610.00 1433.50 L617.07 1433.50 L624.15 1433.50 L631.23 1433.50 L638.30 1433.50"/>
<path stroke="#27a013" d="M72.30 1357.76 L79.38 1345.86 L86.45 1333.55 L93.52 1321.14 L100.60 1308.96 L107.67 1297.36 L114.75 1286.63 L121.82 1276.99 L128.90 1268.53 L135.97 1261.21 L143.05 1254.82 L150.12 1248.99 L157.20 1243.22 L164.28 1236.89 L171.35 1229.38 L178.43 1220.07 L185.50 1208.44 L192.57 1194.16 L199.65 1177.11 L206.72 1157.46 L213.80 1135.70 L220.88 1112.58 L227.95 1089.19 L235.02 1066.80 L242.10 1046.85 L249.18 1030.82 L256.25 1020.11 L263.32 1015.90 L270.40 1019.04 L277.47 1029.92 L284.55 1048.42 L291.62 1073.89 L298.70 1105.19 L305.77 1140.78 L312.85 1178.88 L319.93 1217.63 L327.00 1255.28 L334.08 1290.37 L341.15 1321.77 L348.23 1348.79 L355.30 1371.19 L362.38 1389.05 L369.45 1402.79 L376.52 1412.96 L383.60 1420.21 L390.68 1425.19 L397.75 1428.48 L404.83 1430.57 L411.90 1431.85 L418.98 1432.61 L426.05 1433.03 L433.12 1433.26 L440.20 1433.39 L447.27 1433.45 L454.35 1433.48 L461.43 1433.49 L468.50 1433.50 L475.58 1433.50 L482.65 1433.50 L489.73 1433.50 L496.80 1433.50 L503.88 1433.50 L510.95 1433.50 L518.02 1433.50 L525.10 1433.50 L532.17 1433.50 L539.25 1433.50 L546.33 1433.50 L553.40 1433.50 L560.48 1433.50 L567.55 1433.50 L574.62 1433.50 L581.70 1433.50 L588.77 1433.50 L595.85 1433.50 L602.92 1433.50 L610.00 1433.50 L617.07 1433.50 L624.15 1433.50 L631.23 1433.50 L638.30 1433.50"/>
<path stroke="#dd0a0a" d="M72.30 1366.83 L79.38 1357.13 L86.45 1347.39 L93.52 1337.99 L100.60 1329.34 L107.67 1321.88 L114.75 1316.01 L121.82 1312.07 L128.90 1310.33 L135.97 1310.91 L143.05 1313.76 L150.12 1318.72 L157.20 1325.47 L164.28 1333.56 L171.35 1342.49 L178.43 1351.73 L185.50 1360.73 L192.57 1369.04 L199.65 1376.27 L206.72 1382.12 L213.80 1386.40 L220.88 1389.02 L227.95 1389.96 L235.02 1389.24 L242.10 1386.93 L249.18 1383.09 L256.25 1377.79 L263.32 1371.06 L270.40 1362.94 L277.47 1353.40 L284.55 1342.45 L291.62 1330.02 L298.70 1316.10 L305.77 1300.66 L312.85 1283.68 L319.93 1265.20 L327.00 1245.29 L334.08 1224.07 L341.15 1201.77 L348.23 1178.65 L355.30 1155.08 L362.38 1131.50 L369.45 1108.47 L376.52 1086.56 L383.60 1066.45 L390.68 1048.82 L397.75 1034.36 L404.83 1023.69 L411.90 1017.39 L418.98 1015.90 L426.05 1019.49 L433.12 1028.25 L440.20 1042.08 L447.27 1060.62 L454.35 1083.35 L461.43 1109.55 L468.50 1138.37 L475.58 1168.86 L482.65 1200.05 L489.73 1231.01 L496.80 1260.88 L503.88 1288.95 L510.95 1314.63 L518.02 1337.57 L525.10 1357.54 L532.17 1374.52 L539.25 1388.61 L546.33 1400.02 L553.40 1409.04 L560.48 1416.01 L567.55 1421.26 L574.62 1425.12 L581.70 1427.88 L588.77 1429.82 L595.85 1431.15 L602.92 1432.03 L610.00 1432.60 L617.07 1432.96 L624.15 1433.19 L631.23 1433.32 L638.30 1433.40"/>
</g>
<path d="M72.30 1433.50v7M143.05 1433.50v7M213.80 1433.50v7M284.55 1433.50v7M355.30 1433.50v7M426.05 1433.50v7M496.80 1433.50v7M567.55 1433.50v7M638.30 1433.50v7M72.30 1433.50h-7M72.30 1349.98h-7M72.30 1266.46h-7M72.30 1182.94h-7M72.30 1099.42h-7M72.30 1015.90h-7" stroke="#1a1a1a" stroke-width="1.6" fill="none"/>
<rect x="72.3" y="1015.9" width="566.0" height="417.6" fill="none" stroke="#1a1a1a" stroke-width="1.6"/>
<text class="tk" x="58.7" y="1440.3" text-anchor="end">0.0</text>
<text class="tk" x="58.7" y="1356.8" text-anchor="end">0.2</text>
<text class="tk" x="58.7" y="1273.3" text-anchor="end">0.4</text>
<text class="tk" x="58.7" y="1189.7" text-anchor="end">0.6</text>
<text class="tk" x="58.7" y="1106.2" text-anchor="end">0.8</text>
<text class="tk" x="58.7" y="1022.7" text-anchor="end">1.0</text>
<text class="lb" transform="translate(17.4,1223.3) rotate(-90)" text-anchor="middle">Relative sensitivity</text>
<text class="pl" x="0.7" y="1004.6">E</text>
<g transform="translate(445,1010) scale(0.14970)" fill="#000" stroke="none"><path d="M600 140C620 125 660 125 690 145L735 170C750 200 745 230 730 250L745 300L745 420C790 500 800 600 760 680C730 740 690 775 660 782C620 770 575 720 550 650C525 570 540 480 575 420L570 300L560 250C540 220 540 190 560 170Z"/>
<path d="M575 300C480 270 300 235 150 232C90 232 60 260 65 295C75 340 140 385 220 390C250 430 330 465 400 465C460 450 530 410 580 390Z"/>
<path d="M740 295C850 260 1000 200 1150 192C1210 190 1235 210 1228 240C1215 290 1160 340 1075 360C1050 410 980 445 920 448C860 440 790 410 740 385Z"/>
<path d="M571.5 258.2C563.0 248.7 528.0 244.7 507.8 234.9C487.7 225.1 465.3 213.1 450.6 199.4C435.9 185.7 430.4 165.7 419.6 152.8C408.8 139.9 398.8 130.5 385.9 121.9C372.9 113.2 350.3 102.0 341.7 100.9C333.1 99.8 328.9 108.9 334.3 115.1C339.7 121.3 363.1 129.4 374.1 138.1C385.2 146.8 391.2 153.5 400.4 167.2C409.6 180.9 414.1 204.3 429.4 220.6C444.7 236.9 470.6 253.2 492.2 265.1C513.7 276.9 545.3 292.9 558.5 291.8C571.8 290.7 579.9 267.7 571.5 258.2Z"/><path d="M752.4 276.4C764.4 277.3 791.1 262.2 809.4 249.1C827.8 236.1 850.6 217.2 862.5 198.3C874.3 179.4 873.2 150.9 880.5 135.8C887.7 120.8 895.4 116.5 906.0 108.0C916.5 99.6 938.8 91.2 943.9 85.0C948.9 78.8 944.4 69.8 936.1 71.0C927.8 72.2 906.8 83.1 894.0 92.0C881.3 100.8 868.9 109.2 859.5 124.2C850.1 139.1 849.0 165.6 837.5 181.7C826.0 197.8 807.2 210.5 790.6 220.9C773.9 231.2 743.9 234.4 737.6 243.6C731.2 252.9 740.5 275.5 752.4 276.4Z"/><path d="M567.0 407.8C551.8 408.3 514.7 431.5 491.7 445.1C468.8 458.8 444.2 473.8 429.1 489.7C413.9 505.6 410.0 525.2 400.9 540.6C391.7 556.0 387.2 570.3 374.0 582.0C360.7 593.7 328.9 603.7 321.4 610.9C313.8 618.1 317.9 627.3 328.6 625.1C339.4 623.0 369.3 608.9 386.0 598.0C402.8 587.0 418.3 574.0 429.1 559.4C440.0 544.8 437.7 524.4 450.9 510.3C464.1 496.2 486.2 486.2 508.3 474.9C530.3 463.5 573.2 453.4 583.0 442.2C592.8 431.0 582.2 407.3 567.0 407.8Z"/><path d="M742.7 437.5C750.3 447.2 782.9 452.5 803.2 460.6C823.4 468.6 850.6 471.7 864.4 485.6C878.2 499.6 874.1 528.0 885.7 544.3C897.4 560.6 916.8 573.1 934.5 583.3C952.2 593.5 981.3 604.2 991.9 605.4C1002.5 606.6 1005.8 597.1 998.1 590.6C990.4 584.2 959.5 577.5 945.5 566.7C931.6 555.9 924.2 542.8 914.3 525.7C904.3 508.7 901.8 480.4 885.6 464.4C869.4 448.3 838.2 439.8 816.8 429.4C795.5 419.1 769.7 401.1 757.3 402.5C744.9 403.8 735.1 427.9 742.7 437.5Z"/><path d="M548.6 483.6C535.7 491.0 516.5 529.3 504.6 550.7C492.7 572.2 487.4 594.2 477.1 612.4C466.8 630.6 453.3 645.6 442.6 659.8C432.0 674.0 423.7 686.2 413.2 697.7C402.7 709.2 383.6 721.7 379.8 728.9C376.0 736.2 382.4 743.8 390.2 741.1C398.0 738.3 413.9 722.5 426.8 712.3C439.7 702.2 454.7 694.3 467.4 680.2C480.0 666.1 491.6 646.1 502.9 627.6C514.3 609.1 522.3 589.5 535.4 569.3C548.5 549.1 579.3 520.7 581.4 506.4C583.6 492.1 561.4 476.2 548.6 483.6Z"/><path d="M747.9 505.3C750.0 521.1 779.7 557.3 794.8 579.6C809.8 601.9 825.7 623.8 838.2 639.2C850.6 654.6 856.9 662.3 869.6 672.1C882.3 682.0 900.2 689.9 914.2 698.2C928.2 706.4 945.6 720.0 953.6 721.7C961.6 723.4 967.0 715.0 962.4 708.3C957.8 701.7 937.8 691.9 925.8 681.8C913.8 671.7 901.1 658.0 890.4 647.9C879.8 637.7 872.7 635.4 861.8 620.8C851.0 606.2 838.5 583.1 825.2 560.4C812.0 537.7 795.0 493.9 782.1 484.7C769.3 475.5 745.7 489.5 747.9 505.3Z"/><g fill="none" stroke="#000" stroke-width="12"><path d="M605 148L455 60"/><path d="M680 140L810 45"/></g></g>
<g clip-path="url(#c21)" fill="none" stroke-width="3.7" stroke-linejoin="round" stroke-linecap="butt">
<path stroke="#0b70d0" d="M750.90 1172.19 L757.98 1134.01 L765.05 1097.20 L772.12 1064.32 L779.20 1038.13 L786.27 1021.29 L793.35 1015.90 L800.42 1023.15 L807.50 1042.96 L814.57 1073.93 L821.65 1113.46 L828.73 1158.13 L835.80 1204.33 L842.88 1248.72 L849.95 1288.78 L857.02 1323.00 L864.10 1350.86 L871.17 1372.66 L878.25 1389.20 L885.32 1401.48 L892.40 1410.49 L899.48 1417.07 L906.55 1421.87 L913.62 1425.36 L920.70 1427.90 L927.77 1429.71 L934.85 1430.99 L941.92 1431.88 L949.00 1432.47 L956.07 1432.87 L963.15 1433.12 L970.23 1433.28 L977.30 1433.37 L984.38 1433.43 L991.45 1433.46 L998.52 1433.48 L1005.60 1433.49 L1012.67 1433.49 L1019.75 1433.50 L1026.83 1433.50 L1033.90 1433.50 L1040.97 1433.50 L1048.05 1433.50 L1055.12 1433.50 L1062.20 1433.50 L1069.28 1433.50 L1076.35 1433.50 L1083.42 1433.50 L1090.50 1433.50 L1097.58 1433.50 L1104.65 1433.50 L1111.72 1433.50 L1118.80 1433.50 L1125.88 1433.50 L1132.95 1433.50 L1140.03 1433.50 L1147.10 1433.50 L1154.17 1433.50 L1161.25 1433.50 L1168.33 1433.50 L1175.40 1433.50 L1182.47 1433.50 L1189.55 1433.50 L1196.62 1433.50 L1203.70 1433.50 L1210.78 1433.50 L1217.85 1433.50 L1224.92 1433.50 L1232.00 1433.50 L1239.08 1433.50 L1246.15 1433.50 L1253.22 1433.50 L1260.30 1433.50 L1267.38 1433.50 L1274.45 1433.50 L1281.53 1433.50 L1288.60 1433.50 L1295.67 1433.50 L1302.75 1433.50 L1309.83 1433.50 L1316.90 1433.50"/>
<path stroke="#27a013" d="M750.90 1355.42 L757.98 1343.05 L765.05 1330.17 L772.12 1317.05 L779.20 1304.02 L786.27 1291.38 L793.35 1279.40 L800.42 1268.26 L807.50 1258.03 L814.57 1248.63 L821.65 1239.83 L828.73 1231.26 L835.80 1222.42 L842.88 1212.77 L849.95 1201.73 L857.02 1188.82 L864.10 1173.69 L871.17 1156.24 L878.25 1136.65 L885.32 1115.40 L892.40 1093.33 L899.48 1071.56 L906.55 1051.45 L913.62 1034.49 L920.70 1022.19 L927.77 1015.90 L934.85 1016.70 L941.92 1025.23 L949.00 1041.61 L956.07 1065.39 L963.15 1095.56 L970.23 1130.64 L977.30 1168.84 L984.38 1208.23 L991.45 1246.92 L998.52 1283.28 L1005.60 1316.04 L1012.67 1344.39 L1019.75 1367.96 L1026.83 1386.81 L1033.90 1401.32 L1040.97 1412.05 L1048.05 1419.68 L1055.12 1424.91 L1062.20 1428.34 L1069.28 1430.52 L1076.35 1431.84 L1083.42 1432.61 L1090.50 1433.04 L1097.58 1433.27 L1104.65 1433.39 L1111.72 1433.45 L1118.80 1433.48 L1125.88 1433.49 L1132.95 1433.50 L1140.03 1433.50 L1147.10 1433.50 L1154.17 1433.50 L1161.25 1433.50 L1168.33 1433.50 L1175.40 1433.50 L1182.47 1433.50 L1189.55 1433.50 L1196.62 1433.50 L1203.70 1433.50 L1210.78 1433.50 L1217.85 1433.50 L1224.92 1433.50 L1232.00 1433.50 L1239.08 1433.50 L1246.15 1433.50 L1253.22 1433.50 L1260.30 1433.50 L1267.38 1433.50 L1274.45 1433.50 L1281.53 1433.50 L1288.60 1433.50 L1295.67 1433.50 L1302.75 1433.50 L1309.83 1433.50 L1316.90 1433.50"/>
<path stroke="#dd0a0a" d="M750.90 1366.78 L757.98 1357.06 L765.05 1347.28 L772.12 1337.82 L779.20 1329.10 L786.27 1321.55 L793.35 1315.58 L800.42 1311.54 L807.50 1309.67 L814.57 1310.10 L821.65 1312.80 L828.73 1317.58 L835.80 1324.13 L842.88 1332.01 L849.95 1340.69 L857.02 1349.64 L864.10 1358.32 L871.17 1366.25 L878.25 1373.04 L885.32 1378.38 L892.40 1382.08 L899.48 1384.02 L906.55 1384.17 L913.62 1382.55 L920.70 1379.20 L927.77 1374.18 L934.85 1367.54 L941.92 1359.31 L949.00 1349.51 L956.07 1338.13 L963.15 1325.17 L970.23 1310.60 L977.30 1294.41 L984.38 1276.63 L991.45 1257.31 L998.52 1236.55 L1005.60 1214.53 L1012.67 1191.49 L1019.75 1167.77 L1026.83 1143.78 L1033.90 1120.05 L1040.97 1097.17 L1048.05 1075.79 L1055.12 1056.63 L1062.20 1040.40 L1069.28 1027.80 L1076.35 1019.46 L1083.42 1015.90 L1090.50 1017.48 L1097.58 1024.38 L1104.65 1036.56 L1111.72 1053.75 L1118.80 1075.46 L1125.88 1101.01 L1132.95 1129.54 L1140.03 1160.10 L1147.10 1191.66 L1154.17 1223.23 L1161.25 1253.89 L1168.33 1282.85 L1175.40 1309.48 L1182.47 1333.34 L1189.55 1354.18 L1196.62 1371.93 L1203.70 1386.68 L1210.78 1398.63 L1217.85 1408.08 L1224.92 1415.37 L1232.00 1420.85 L1239.08 1424.87 L1246.15 1427.74 L1253.22 1429.75 L1260.30 1431.11 L1267.38 1432.02 L1274.45 1432.60 L1281.53 1432.97 L1288.60 1433.19 L1295.67 1433.33 L1302.75 1433.41 L1309.83 1433.45 L1316.90 1433.47"/>
</g>
<path d="M750.90 1433.50v7M821.65 1433.50v7M892.40 1433.50v7M963.15 1433.50v7M1033.90 1433.50v7M1104.65 1433.50v7M1175.40 1433.50v7M1246.15 1433.50v7M1316.90 1433.50v7M750.90 1433.50h-7M750.90 1349.98h-7M750.90 1266.46h-7M750.90 1182.94h-7M750.90 1099.42h-7M750.90 1015.90h-7" stroke="#1a1a1a" stroke-width="1.6" fill="none"/>
<rect x="750.9" y="1015.9" width="566.0" height="417.6" fill="none" stroke="#1a1a1a" stroke-width="1.6"/>
<text class="pl" x="672.5" y="1005.4">F</text>
<g transform="translate(1115,1010) scale(0.15718)" fill="#000" stroke="none"><path d="M570 200C590 150 620 120 660 115C700 118 730 150 745 195L780 225C800 260 810 300 800 360L775 420C830 480 850 560 830 640C810 730 740 790 660 790C580 790 510 730 495 640C480 560 500 480 545 420L525 370C510 310 520 260 545 230Z"/>
<path d="M520 295C420 240 300 170 200 150C120 140 60 160 65 200C80 260 140 310 215 335C240 390 300 420 370 420C430 415 480 400 525 385Z"/>
<path d="M805 295C900 250 1020 180 1120 155C1200 140 1260 155 1255 200C1240 260 1190 310 1110 335C1080 390 1010 425 940 422C890 415 840 400 800 380Z"/>
<path d="M518.9 372.1C509.3 375.4 486.5 397.7 473.5 407.4C460.5 417.1 452.9 416.4 441.1 430.2C429.3 444.0 412.2 472.3 402.6 490.1C393.0 507.9 390.4 522.8 383.5 537.1C376.5 551.3 369.5 565.2 360.8 575.8C352.0 586.3 334.8 594.7 331.2 600.4C327.5 606.0 332.5 612.3 338.8 609.6C345.2 606.9 358.0 593.7 369.2 584.2C380.5 574.8 395.2 565.3 406.5 552.9C417.9 540.5 427.0 527.1 437.4 509.9C447.8 492.7 460.7 464.4 468.9 449.8C477.1 435.2 476.1 432.9 486.5 422.6C496.9 412.3 525.7 396.3 531.1 387.9C536.5 379.5 528.5 368.9 518.9 372.1Z"/><path d="M793.9 387.9C799.3 396.3 827.8 412.2 838.6 422.7C849.4 433.2 849.7 436.8 858.8 450.7C867.9 464.6 881.9 490.0 893.5 506.2C905.1 522.4 917.4 535.9 928.5 547.9C939.6 560.0 950.4 567.2 960.1 578.5C969.9 589.8 981.0 610.5 987.2 615.5C993.3 620.5 999.7 615.8 996.8 608.5C994.0 601.1 977.4 584.2 969.9 571.5C962.3 558.8 958.8 546.7 951.5 532.1C944.3 517.4 937.6 500.9 926.5 483.8C915.5 466.6 897.7 442.0 885.2 429.3C872.7 416.5 864.6 416.8 851.4 407.3C838.2 397.8 815.7 375.3 806.1 372.1C796.5 368.9 788.5 379.5 793.9 387.9Z"/><path d="M507.7 499.9C495.7 506.3 481.8 539.9 470.2 558.3C458.6 576.7 445.5 592.3 438.1 610.2C430.7 628.0 426.6 650.2 425.6 665.1C424.6 680.1 430.8 680.5 432.0 699.6C433.2 718.8 432.8 754.1 433.0 780.0C433.2 805.9 430.7 842.5 433.0 855.0C435.3 867.5 444.7 867.5 447.0 855.0C449.3 842.5 446.8 805.8 447.0 780.0C447.2 754.2 445.1 717.9 448.0 700.4C450.9 682.8 458.8 686.6 464.4 674.9C470.1 663.1 474.3 645.4 481.9 629.8C489.5 614.3 499.7 600.0 509.8 581.7C519.9 563.4 542.6 533.7 542.3 520.1C541.9 506.4 519.7 493.6 507.7 499.9Z"/><path d="M792.7 520.1C792.3 533.6 815.7 563.0 824.8 581.0C833.9 599.1 841.2 612.9 847.5 628.3C853.7 643.7 857.5 661.5 862.3 673.4C867.1 685.4 873.9 682.3 876.0 700.0C878.1 717.7 875.2 754.6 875.0 779.9C874.8 805.2 872.7 840.0 875.0 852.0C877.3 864.0 886.7 864.0 889.0 852.0C891.3 840.0 888.5 805.4 889.0 780.1C889.5 754.8 889.9 718.9 892.0 700.0C894.1 681.1 901.6 681.3 901.7 666.6C901.8 651.8 898.6 629.6 892.5 611.7C886.4 593.7 876.1 577.6 865.2 559.0C854.3 540.4 839.4 506.4 827.3 499.9C815.2 493.4 793.1 506.6 792.7 520.1Z"/><g fill="none" stroke="#000" stroke-linecap="round"><path stroke-width="14" d="M322 606L340 613"/><path stroke-width="12" d="M430 858L455 858"/><path stroke-width="12" d="M870 856L892 856"/>
<path stroke-width="13" d="M557 205L537 150"/><path stroke-width="9" d="M537 150L512 52"/><path stroke-width="10" d="M555 110L610 122"/>
<path stroke-width="13" d="M763 200L793 125"/><path stroke-width="9" d="M793 125L812 50"/><path stroke-width="10" d="M725 122L790 112"/>
</g></g>
<g clip-path="url(#c30)" fill="none" stroke-width="3.7" stroke-linejoin="round" stroke-linecap="butt">
<path stroke="#808080" d="M72.30 1685.72 L79.38 1647.79 L86.45 1610.48 L93.52 1576.17 L100.60 1547.56 L107.67 1527.33 L114.75 1517.80 L121.82 1520.52 L128.90 1535.92 L135.97 1563.09 L143.05 1599.89 L150.12 1643.21 L157.20 1689.47 L164.28 1735.16 L171.35 1777.42 L178.43 1814.27 L185.50 1844.80 L192.57 1868.99 L199.65 1887.45 L206.72 1901.15 L213.80 1911.12 L220.88 1918.30 L227.95 1923.44 L235.02 1927.11 L242.10 1929.74 L249.18 1931.59 L256.25 1932.89 L263.32 1933.78 L270.40 1934.38 L277.47 1934.77 L284.55 1935.02 L291.62 1935.18 L298.70 1935.27 L305.77 1935.33 L312.85 1935.36 L319.93 1935.38 L327.00 1935.39 L334.08 1935.39 L341.15 1935.40 L348.23 1935.40 L355.30 1935.40 L362.38 1935.40 L369.45 1935.40 L376.52 1935.40 L383.60 1935.40 L390.68 1935.40 L397.75 1935.40 L404.83 1935.40 L411.90 1935.40 L418.98 1935.40 L426.05 1935.40 L433.12 1935.40 L440.20 1935.40 L447.27 1935.40 L454.35 1935.40 L461.43 1935.40 L468.50 1935.40 L475.58 1935.40 L482.65 1935.40 L489.73 1935.40 L496.80 1935.40 L503.88 1935.40 L510.95 1935.40 L518.02 1935.40 L525.10 1935.40 L532.17 1935.40 L539.25 1935.40 L546.33 1935.40 L553.40 1935.40 L560.48 1935.40 L567.55 1935.40 L574.62 1935.40 L581.70 1935.40 L588.77 1935.40 L595.85 1935.40 L602.92 1935.40 L610.00 1935.40 L617.07 1935.40 L624.15 1935.40 L631.23 1935.40 L638.30 1935.40"/>
<path stroke="#0b70d0" d="M72.30 1758.70 L79.38 1726.98 L86.45 1692.84 L93.52 1657.30 L100.60 1621.81 L107.67 1588.26 L114.75 1558.83 L121.82 1535.86 L128.90 1521.58 L135.97 1517.80 L143.05 1525.59 L150.12 1545.02 L157.20 1575.07 L164.28 1613.64 L171.35 1657.86 L178.43 1704.42 L185.50 1750.10 L192.57 1792.18 L199.65 1828.77 L206.72 1858.88 L213.80 1882.40 L220.88 1899.90 L227.95 1912.32 L235.02 1920.79 L242.10 1926.35 L249.18 1929.88 L256.25 1932.08 L263.32 1933.42 L270.40 1934.23 L277.47 1934.71 L284.55 1935.00 L291.62 1935.17 L298.70 1935.27 L305.77 1935.33 L312.85 1935.36 L319.93 1935.38 L327.00 1935.39 L334.08 1935.39 L341.15 1935.40 L348.23 1935.40 L355.30 1935.40 L362.38 1935.40 L369.45 1935.40 L376.52 1935.40 L383.60 1935.40 L390.68 1935.40 L397.75 1935.40 L404.83 1935.40 L411.90 1935.40 L418.98 1935.40 L426.05 1935.40 L433.12 1935.40 L440.20 1935.40 L447.27 1935.40 L454.35 1935.40 L461.43 1935.40 L468.50 1935.40 L475.58 1935.40 L482.65 1935.40 L489.73 1935.40 L496.80 1935.40 L503.88 1935.40 L510.95 1935.40 L518.02 1935.40 L525.10 1935.40 L532.17 1935.40 L539.25 1935.40 L546.33 1935.40 L553.40 1935.40 L560.48 1935.40 L567.55 1935.40 L574.62 1935.40 L581.70 1935.40 L588.77 1935.40 L595.85 1935.40 L602.92 1935.40 L610.00 1935.40 L617.07 1935.40 L624.15 1935.40 L631.23 1935.40 L638.30 1935.40"/>
<path stroke="#27a013" d="M72.30 1864.48 L79.38 1853.57 L86.45 1842.41 L93.52 1831.37 L100.60 1820.83 L107.67 1811.20 L114.75 1802.84 L121.82 1796.04 L128.90 1790.98 L135.97 1787.68 L143.05 1786.03 L150.12 1785.73 L157.20 1786.32 L164.28 1787.22 L171.35 1787.79 L178.43 1787.33 L185.50 1785.17 L192.57 1780.71 L199.65 1773.48 L206.72 1763.13 L213.80 1749.50 L220.88 1732.63 L227.95 1712.74 L235.02 1690.24 L242.10 1665.75 L249.18 1640.05 L256.25 1614.11 L263.32 1589.01 L270.40 1565.97 L277.47 1546.19 L284.55 1530.89 L291.62 1521.14 L298.70 1517.80 L305.77 1521.45 L312.85 1532.30 L319.93 1550.13 L327.00 1574.31 L334.08 1603.83 L341.15 1637.35 L348.23 1673.35 L355.30 1710.23 L362.38 1746.46 L369.45 1780.70 L376.52 1811.90 L383.60 1839.34 L390.68 1862.65 L397.75 1881.80 L404.83 1897.00 L411.90 1908.67 L418.98 1917.33 L426.05 1923.55 L433.12 1927.86 L440.20 1930.75 L447.27 1932.62 L454.35 1933.79 L461.43 1934.50 L468.50 1934.91 L475.58 1935.15 L482.65 1935.27 L489.73 1935.34 L496.80 1935.37 L503.88 1935.39 L510.95 1935.39 L518.02 1935.40 L525.10 1935.40 L532.17 1935.40 L539.25 1935.40 L546.33 1935.40 L553.40 1935.40 L560.48 1935.40 L567.55 1935.40 L574.62 1935.40 L581.70 1935.40 L588.77 1935.40 L595.85 1935.40 L602.92 1935.40 L610.00 1935.40 L617.07 1935.40 L624.15 1935.40 L631.23 1935.40 L638.30 1935.40"/>
<path stroke="#dd0a0a" d="M72.30 1868.72 L79.38 1859.02 L86.45 1849.26 L93.52 1839.84 L100.60 1831.16 L107.67 1823.65 L114.75 1817.74 L121.82 1813.75 L128.90 1811.95 L135.97 1812.45 L143.05 1815.23 L150.12 1820.11 L157.20 1826.76 L164.28 1834.74 L171.35 1843.55 L178.43 1852.65 L185.50 1861.50 L192.57 1869.63 L199.65 1876.64 L206.72 1882.25 L213.80 1886.25 L220.88 1888.55 L227.95 1889.11 L235.02 1887.97 L242.10 1885.16 L249.18 1880.76 L256.25 1874.82 L263.32 1867.38 L270.40 1858.45 L277.47 1848.04 L284.55 1836.11 L291.62 1822.65 L298.70 1807.62 L305.77 1791.03 L312.85 1772.89 L319.93 1753.26 L327.00 1732.27 L334.08 1710.10 L341.15 1687.00 L348.23 1663.35 L355.30 1639.56 L362.38 1616.16 L369.45 1593.76 L376.52 1573.01 L383.60 1554.61 L390.68 1539.26 L397.75 1527.63 L404.83 1520.32 L411.90 1517.80 L418.98 1520.40 L426.05 1528.24 L433.12 1541.26 L440.20 1559.14 L447.27 1581.37 L454.35 1607.26 L461.43 1635.94 L468.50 1666.47 L475.58 1697.84 L482.65 1729.11 L489.73 1759.37 L496.80 1787.87 L503.88 1814.02 L510.95 1837.41 L518.02 1857.81 L525.10 1875.16 L532.17 1889.57 L539.25 1901.25 L546.33 1910.48 L553.40 1917.60 L560.48 1922.96 L567.55 1926.90 L574.62 1929.72 L581.70 1931.69 L588.77 1933.03 L595.85 1933.92 L602.92 1934.50 L610.00 1934.87 L617.07 1935.09 L624.15 1935.22 L631.23 1935.30 L638.30 1935.35"/>
</g>
<path d="M72.30 1935.40v7M143.05 1935.40v7M213.80 1935.40v7M284.55 1935.40v7M355.30 1935.40v7M426.05 1935.40v7M496.80 1935.40v7M567.55 1935.40v7M638.30 1935.40v7M72.30 1935.40h-7M72.30 1851.88h-7M72.30 1768.36h-7M72.30 1684.84h-7M72.30 1601.32h-7M72.30 1517.80h-7" stroke="#1a1a1a" stroke-width="1.6" fill="none"/>
<rect x="72.3" y="1517.8" width="566.0" height="417.6" fill="none" stroke="#1a1a1a" stroke-width="1.6"/>
<text class="tk" x="58.7" y="1942.2" text-anchor="end">0.0</text>
<text class="tk" x="58.7" y="1858.7" text-anchor="end">0.2</text>
<text class="tk" x="58.7" y="1775.2" text-anchor="end">0.4</text>
<text class="tk" x="58.7" y="1691.6" text-anchor="end">0.6</text>
<text class="tk" x="58.7" y="1608.1" text-anchor="end">0.8</text>
<text class="tk" x="58.7" y="1524.6" text-anchor="end">1.0</text>
<text class="lb" transform="translate(17.4,1725.2) rotate(-90)" text-anchor="middle">Relative sensitivity</text>
<text class="pl" x="1.6" y="1508.6">G</text>
<g transform="translate(470,1515) scale(0.12724)" fill="#000" stroke="none"><path d="M582.0 130.0L600.0 140.0L620.0 170.0L640.0 140.0L655.0 128.0L660.0 175.0L690.0 200.0L708.0 235.0L705.0 275.0L725.0 300.0L740.0 345.0L745.0 360.0L800.0 380.0L880.0 410.0L980.0 455.0L1080.0 500.0L1180.0 550.0L1228.0 610.0L1215.0 640.0L1150.0 655.0L1060.0 650.0L960.0 620.0L880.0 580.0L820.0 530.0L790.0 470.0L745.0 425.0L715.0 430.0L720.0 470.0L730.0 540.0L735.0 600.0L728.0 690.0L720.0 750.0L695.0 790.0L665.0 808.0L635.0 785.0L605.0 740.0L595.0 690.0L580.0 610.0L560.0 550.0L555.0 490.0L575.0 410.0L550.0 400.0L540.0 420.0L515.0 410.0L500.0 520.0L460.0 610.0L400.0 660.0L330.0 700.0L250.0 725.0L170.0 738.0L118.0 745.0L112.0 690.0L130.0 655.0L200.0 605.0L290.0 545.0L380.0 470.0L450.0 425.0L500.0 390.0L530.0 375.0L545.0 330.0L545.0 290.0L540.0 250.0L550.0 215.0L575.0 195.0L595.0 180.0L590.0 155.0Z" stroke="#000" stroke-width="6" stroke-linejoin="round"/></g>
<g clip-path="url(#c31)" fill="none" stroke-width="3.7" stroke-linejoin="round" stroke-linecap="butt">
<path stroke="#808080" d="M750.90 1841.30 L757.98 1825.11 L765.05 1807.41 L772.12 1788.32 L779.20 1767.97 L786.27 1746.53 L793.35 1724.14 L800.42 1701.01 L807.50 1677.32 L814.57 1653.32 L821.65 1629.30 L828.73 1605.70 L835.80 1583.10 L842.88 1562.25 L849.95 1544.13 L857.02 1529.87 L864.10 1520.70 L871.17 1517.80 L878.25 1522.16 L885.32 1534.39 L892.40 1554.59 L899.48 1582.22 L906.55 1616.12 L913.62 1654.57 L920.70 1695.49 L927.77 1736.66 L934.85 1776.00 L941.92 1811.81 L949.00 1842.88 L956.07 1868.63 L963.15 1888.99 L970.23 1904.38 L977.30 1915.48 L984.38 1923.12 L991.45 1928.15 L998.52 1931.29 L1005.60 1933.18 L1012.67 1934.25 L1019.75 1934.83 L1026.83 1935.13 L1033.90 1935.28 L1040.97 1935.35 L1048.05 1935.38 L1055.12 1935.39 L1062.20 1935.40 L1069.28 1935.40 L1076.35 1935.40 L1083.42 1935.40 L1090.50 1935.40 L1097.58 1935.40 L1104.65 1935.40 L1111.72 1935.40 L1118.80 1935.40 L1125.88 1935.40 L1132.95 1935.40 L1140.03 1935.40 L1147.10 1935.40 L1154.17 1935.40 L1161.25 1935.40 L1168.33 1935.40 L1175.40 1935.40 L1182.47 1935.40 L1189.55 1935.40 L1196.62 1935.40 L1203.70 1935.40 L1210.78 1935.40 L1217.85 1935.40 L1224.92 1935.40 L1232.00 1935.40 L1239.08 1935.40 L1246.15 1935.40 L1253.22 1935.40 L1260.30 1935.40 L1267.38 1935.40 L1274.45 1935.40 L1281.53 1935.40 L1288.60 1935.40 L1295.67 1935.40 L1302.75 1935.40 L1309.83 1935.40 L1316.90 1935.40"/>
<path stroke="#0b70d0" d="M750.90 1862.79 L757.98 1851.53 L765.05 1839.97 L772.12 1828.45 L779.20 1817.36 L786.27 1807.07 L793.35 1797.92 L800.42 1790.17 L807.50 1783.98 L814.57 1779.34 L821.65 1776.10 L828.73 1773.93 L835.80 1772.34 L842.88 1770.73 L849.95 1768.43 L857.02 1764.76 L864.10 1759.04 L871.17 1750.75 L878.25 1739.48 L885.32 1725.02 L892.40 1707.40 L899.48 1686.88 L906.55 1663.96 L913.62 1639.39 L920.70 1614.15 L927.77 1589.38 L934.85 1566.37 L941.92 1546.45 L949.00 1530.96 L956.07 1521.09 L963.15 1517.80 L970.23 1521.74 L977.30 1533.14 L984.38 1551.79 L991.45 1576.98 L998.52 1607.61 L1005.60 1642.26 L1012.67 1679.26 L1019.75 1716.93 L1026.83 1753.64 L1033.90 1788.04 L1040.97 1819.06 L1048.05 1846.04 L1055.12 1868.66 L1062.20 1886.97 L1069.28 1901.29 L1076.35 1912.09 L1083.42 1919.95 L1090.50 1925.48 L1097.58 1929.24 L1104.65 1931.69 L1111.72 1933.24 L1118.80 1934.19 L1125.88 1934.74 L1132.95 1935.05 L1140.03 1935.23 L1147.10 1935.31 L1154.17 1935.36 L1161.25 1935.38 L1168.33 1935.39 L1175.40 1935.40 L1182.47 1935.40 L1189.55 1935.40 L1196.62 1935.40 L1203.70 1935.40 L1210.78 1935.40 L1217.85 1935.40 L1224.92 1935.40 L1232.00 1935.40 L1239.08 1935.40 L1246.15 1935.40 L1253.22 1935.40 L1260.30 1935.40 L1267.38 1935.40 L1274.45 1935.40 L1281.53 1935.40 L1288.60 1935.40 L1295.67 1935.40 L1302.75 1935.40 L1309.83 1935.40 L1316.90 1935.40"/>
<path stroke="#27a013" d="M750.90 1868.72 L757.98 1859.02 L765.05 1849.26 L772.12 1839.84 L779.20 1831.16 L786.27 1823.65 L793.35 1817.74 L800.42 1813.75 L807.50 1811.95 L814.57 1812.45 L821.65 1815.23 L828.73 1820.11 L835.80 1826.76 L842.88 1834.74 L849.95 1843.55 L857.02 1852.65 L864.10 1861.50 L871.17 1869.63 L878.25 1876.64 L885.32 1882.25 L892.40 1886.25 L899.48 1888.55 L906.55 1889.11 L913.62 1887.97 L920.70 1885.16 L927.77 1880.76 L934.85 1874.82 L941.92 1867.38 L949.00 1858.45 L956.07 1848.04 L963.15 1836.11 L970.23 1822.65 L977.30 1807.62 L984.38 1791.03 L991.45 1772.89 L998.52 1753.26 L1005.60 1732.27 L1012.67 1710.10 L1019.75 1687.00 L1026.83 1663.35 L1033.90 1639.56 L1040.97 1616.16 L1048.05 1593.76 L1055.12 1573.01 L1062.20 1554.61 L1069.28 1539.26 L1076.35 1527.63 L1083.42 1520.32 L1090.50 1517.80 L1097.58 1520.40 L1104.65 1528.24 L1111.72 1541.26 L1118.80 1559.14 L1125.88 1581.37 L1132.95 1607.26 L1140.03 1635.94 L1147.10 1666.47 L1154.17 1697.84 L1161.25 1729.11 L1168.33 1759.37 L1175.40 1787.87 L1182.47 1814.02 L1189.55 1837.41 L1196.62 1857.81 L1203.70 1875.16 L1210.78 1889.57 L1217.85 1901.25 L1224.92 1910.48 L1232.00 1917.60 L1239.08 1922.96 L1246.15 1926.90 L1253.22 1929.72 L1260.30 1931.69 L1267.38 1933.03 L1274.45 1933.92 L1281.53 1934.50 L1288.60 1934.87 L1295.67 1935.09 L1302.75 1935.22 L1309.83 1935.30 L1316.90 1935.35"/>
<path stroke="#dd0a0a" d="M750.90 1868.79 L757.98 1859.15 L765.05 1849.49 L772.12 1840.21 L779.20 1831.74 L786.27 1824.53 L793.35 1818.98 L800.42 1815.46 L807.50 1814.22 L814.57 1815.38 L821.65 1818.93 L828.73 1824.68 L835.80 1832.31 L842.88 1841.40 L849.95 1851.45 L857.02 1861.92 L864.10 1872.31 L871.17 1882.18 L878.25 1891.15 L885.32 1898.98 L892.40 1905.52 L899.48 1910.72 L906.55 1914.60 L913.62 1917.27 L920.70 1918.83 L927.77 1919.44 L934.85 1919.22 L941.92 1918.29 L949.00 1916.75 L956.07 1914.67 L963.15 1912.08 L970.23 1909.01 L977.30 1905.45 L984.38 1901.37 L991.45 1896.75 L998.52 1891.52 L1005.60 1885.64 L1012.67 1879.04 L1019.75 1871.65 L1026.83 1863.39 L1033.90 1854.19 L1040.97 1843.99 L1048.05 1832.71 L1055.12 1820.31 L1062.20 1806.74 L1069.28 1791.98 L1076.35 1776.02 L1083.42 1758.91 L1090.50 1740.70 L1097.58 1721.51 L1104.65 1701.48 L1111.72 1680.84 L1118.80 1659.83 L1125.88 1638.78 L1132.95 1618.05 L1140.03 1598.06 L1147.10 1579.25 L1154.17 1562.12 L1161.25 1547.14 L1168.33 1534.81 L1175.40 1525.55 L1182.47 1519.78 L1189.55 1517.80 L1196.62 1519.83 L1203.70 1525.98 L1210.78 1536.21 L1217.85 1550.35 L1224.92 1568.12 L1232.00 1589.08 L1239.08 1612.71 L1246.15 1638.39 L1253.22 1665.45 L1260.30 1693.20 L1267.38 1720.97 L1274.45 1748.13 L1281.53 1774.12 L1288.60 1798.47 L1295.67 1820.83 L1302.75 1840.96 L1309.83 1858.73 L1316.90 1874.11"/>
</g>
<path d="M750.90 1935.40v7M821.65 1935.40v7M892.40 1935.40v7M963.15 1935.40v7M1033.90 1935.40v7M1104.65 1935.40v7M1175.40 1935.40v7M1246.15 1935.40v7M1316.90 1935.40v7M750.90 1935.40h-7M750.90 1851.88h-7M750.90 1768.36h-7M750.90 1684.84h-7M750.90 1601.32h-7M750.90 1517.80h-7" stroke="#1a1a1a" stroke-width="1.6" fill="none"/>
<rect x="750.9" y="1517.8" width="566.0" height="417.6" fill="none" stroke="#1a1a1a" stroke-width="1.6"/>
<text class="pl" x="672.5" y="1509.9">H</text>
<g transform="translate(1215,1510) scale(0.08234)" fill="#000" stroke="none"><path d="M700.0 640.0C690.0 636.7 676.7 575.0 660.0 540.0C643.3 505.0 623.3 466.7 600.0 430.0C576.7 393.3 550.0 355.0 520.0 320.0C490.0 285.0 453.3 245.0 420.0 220.0C386.7 195.0 351.7 181.7 320.0 170.0C288.3 158.3 251.7 149.2 230.0 150.0C208.3 150.8 198.3 161.7 190.0 175.0C181.7 188.3 178.3 207.5 180.0 230.0C181.7 252.5 190.0 283.3 200.0 310.0C210.0 336.7 230.0 363.3 240.0 390.0C250.0 416.7 257.5 445.0 260.0 470.0C262.5 495.0 258.3 518.3 255.0 540.0C251.7 561.7 239.2 580.0 240.0 600.0C240.8 620.0 250.8 641.7 260.0 660.0C269.2 678.3 300.0 693.3 295.0 710.0C290.0 726.7 246.7 741.7 230.0 760.0C213.3 778.3 201.7 798.3 195.0 820.0C188.3 841.7 186.7 866.7 190.0 890.0C193.3 913.3 200.0 936.7 215.0 960.0C230.0 983.3 255.8 1009.2 280.0 1030.0C304.2 1050.8 333.3 1070.8 360.0 1085.0C386.7 1099.2 416.7 1111.7 440.0 1115.0C463.3 1118.3 480.0 1113.3 500.0 1105.0C520.0 1096.7 541.7 1082.5 560.0 1065.0C578.3 1047.5 595.0 1022.5 610.0 1000.0C625.0 977.5 638.3 951.7 650.0 930.0C661.7 908.3 671.7 885.0 680.0 870.0C688.3 855.0 695.8 826.7 700.0 840.0C704.2 853.3 702.0 923.3 705.0 950.0C708.0 976.7 713.8 1000.0 718.0 1000.0C722.2 1000.0 726.3 976.7 730.0 950.0C733.7 923.3 735.0 853.3 740.0 840.0C745.0 826.7 750.0 853.3 760.0 870.0C770.0 886.7 785.0 916.7 800.0 940.0C815.0 963.3 831.7 988.3 850.0 1010.0C868.3 1031.7 888.3 1053.3 910.0 1070.0C931.7 1086.7 958.3 1105.0 980.0 1110.0C1001.7 1115.0 1018.3 1106.7 1040.0 1100.0C1061.7 1093.3 1086.7 1083.3 1110.0 1070.0C1133.3 1056.7 1158.3 1038.3 1180.0 1020.0C1201.7 1001.7 1225.8 981.7 1240.0 960.0C1254.2 938.3 1262.5 913.3 1265.0 890.0C1267.5 866.7 1263.3 840.0 1255.0 820.0C1246.7 800.0 1233.3 788.3 1215.0 770.0C1196.7 751.7 1150.8 728.3 1145.0 710.0C1139.2 691.7 1170.8 678.3 1180.0 660.0C1189.2 641.7 1198.3 623.3 1200.0 600.0C1201.7 576.7 1190.0 546.7 1190.0 520.0C1190.0 493.3 1193.3 468.3 1200.0 440.0C1206.7 411.7 1219.7 378.3 1230.0 350.0C1240.3 321.7 1256.2 295.0 1262.0 270.0C1267.8 245.0 1268.7 218.3 1265.0 200.0C1261.3 181.7 1252.5 167.0 1240.0 160.0C1227.5 153.0 1213.3 153.0 1190.0 158.0C1166.7 163.0 1131.7 173.0 1100.0 190.0C1068.3 207.0 1033.3 230.0 1000.0 260.0C966.7 290.0 928.3 333.3 900.0 370.0C871.7 406.7 851.7 441.7 830.0 480.0C808.3 518.3 784.2 570.0 770.0 600.0C755.8 630.0 750.8 660.0 745.0 660.0C739.2 660.0 739.2 616.7 735.0 600.0C730.8 583.3 725.8 553.3 720.0 560.0C714.2 566.7 710.0 643.3 700.0 640.0Z"/><g fill="none" stroke="#000" stroke-width="11" stroke-linecap="round"><path d="M715 575C700 500 675 430 648 385"/><path d="M725 575C740 500 765 430 792 385"/></g></g>
<g clip-path="url(#c40)" fill="none" stroke-width="3.7" stroke-linejoin="round" stroke-linecap="butt">
<path stroke="#808080" d="M72.30 2395.46 L79.38 2380.69 L86.45 2366.80 L93.52 2353.56 L100.60 2339.11 L107.67 2323.45 L114.75 2306.47 L121.82 2289.11 L128.90 2271.51 L135.97 2254.21 L143.05 2236.63 L150.12 2218.08 L157.20 2199.96 L164.28 2181.55 L171.35 2160.99 L178.43 2139.18 L185.50 2116.71 L192.57 2093.99 L199.65 2070.86 L206.72 2049.20 L213.80 2032.68 L220.88 2023.21 L227.95 2019.22 L235.02 2022.44 L242.10 2031.32 L249.18 2048.27 L256.25 2074.84 L263.32 2111.65 L270.40 2150.74 L277.47 2193.34 L284.55 2235.52 L291.62 2274.35 L298.70 2309.43 L305.77 2340.33 L312.85 2367.06 L319.93 2389.61 L327.00 2406.73 L334.08 2419.68 L341.15 2427.82 L348.23 2433.04 L355.30 2435.30 L362.38 2436.38 L369.45 2436.80 L376.52 2436.80 L383.60 2436.80 L390.68 2436.80 L397.75 2436.80 L404.83 2436.80 L411.90 2436.80 L418.98 2436.80 L426.05 2436.80 L433.12 2436.80 L440.20 2436.80 L447.27 2436.80 L454.35 2436.80 L461.43 2436.80 L468.50 2436.80 L475.58 2436.80 L482.65 2436.80 L489.73 2436.80 L496.80 2436.80 L503.88 2436.80 L510.95 2436.80 L518.02 2436.80 L525.10 2436.80 L532.17 2436.80 L539.25 2436.80 L546.33 2436.80 L553.40 2436.80 L560.48 2436.80 L567.55 2436.80 L574.62 2436.80 L581.70 2436.80 L588.77 2436.80 L595.85 2436.80 L602.92 2436.80 L610.00 2436.80 L617.07 2436.80 L624.15 2436.80 L631.23 2436.80 L638.30 2436.80"/>
<path stroke="#0b70d0" d="M72.30 2436.80 L79.38 2436.80 L86.45 2436.80 L93.52 2436.80 L100.60 2436.80 L107.67 2436.80 L114.75 2436.80 L121.82 2436.80 L128.90 2436.80 L135.97 2436.80 L143.05 2436.80 L150.12 2436.80 L157.20 2436.80 L164.28 2436.80 L171.35 2436.80 L178.43 2436.80 L185.50 2436.80 L192.57 2436.80 L199.65 2436.80 L206.72 2436.80 L213.80 2436.80 L220.88 2436.80 L227.95 2436.80 L235.02 2436.80 L242.10 2436.80 L249.18 2436.80 L256.25 2436.80 L263.32 2436.80 L270.40 2435.55 L277.47 2418.01 L284.55 2369.98 L291.62 2278.11 L298.70 2182.06 L305.77 2102.72 L312.85 2041.33 L319.93 2019.20 L327.00 2024.21 L334.08 2050.52 L341.15 2093.12 L348.23 2140.30 L355.30 2187.91 L362.38 2232.18 L369.45 2274.77 L376.52 2314.03 L383.60 2344.09 L390.68 2367.06 L397.75 2385.85 L404.83 2400.89 L411.90 2413.41 L418.98 2423.02 L426.05 2429.28 L433.12 2433.46 L440.20 2435.30 L447.27 2435.96 L454.35 2436.80 L461.43 2436.80 L468.50 2436.80 L475.58 2436.80 L482.65 2436.80 L489.73 2436.80 L496.80 2436.80 L503.88 2436.80 L510.95 2436.80 L518.02 2436.80 L525.10 2436.80 L532.17 2436.80 L539.25 2436.80 L546.33 2436.80 L553.40 2436.80 L560.48 2436.80 L567.55 2436.80 L574.62 2436.80 L581.70 2436.80 L588.77 2436.80 L595.85 2436.80 L602.92 2436.80 L610.00 2436.80 L617.07 2436.80 L624.15 2436.80 L631.23 2436.80 L638.30 2436.80"/>
<path stroke="#27a013" d="M72.30 2436.80 L79.38 2436.80 L86.45 2436.80 L93.52 2436.80 L100.60 2436.80 L107.67 2436.80 L114.75 2436.80 L121.82 2436.80 L128.90 2436.80 L135.97 2436.80 L143.05 2436.80 L150.12 2436.80 L157.20 2436.80 L164.28 2436.80 L171.35 2436.80 L178.43 2436.80 L185.50 2436.80 L192.57 2436.80 L199.65 2436.80 L206.72 2436.80 L213.80 2436.80 L220.88 2436.80 L227.95 2436.80 L235.02 2436.80 L242.10 2436.80 L249.18 2436.80 L256.25 2436.80 L263.32 2436.80 L270.40 2436.80 L277.47 2436.80 L284.55 2436.80 L291.62 2436.80 L298.70 2436.80 L305.77 2436.80 L312.85 2436.80 L319.93 2436.80 L327.00 2436.80 L334.08 2436.80 L341.15 2436.80 L348.23 2436.80 L355.30 2435.30 L362.38 2428.45 L369.45 2403.39 L376.52 2337.41 L383.60 2240.53 L390.68 2155.76 L397.75 2083.51 L404.83 2036.32 L411.90 2019.20 L418.98 2025.46 L426.05 2054.70 L433.12 2104.81 L440.20 2150.74 L447.27 2197.52 L454.35 2245.96 L461.43 2284.79 L468.50 2322.38 L475.58 2352.19 L482.65 2376.25 L489.73 2395.62 L496.80 2410.49 L503.88 2421.10 L510.95 2428.45 L518.02 2432.62 L525.10 2434.84 L532.17 2435.96 L539.25 2436.80 L546.33 2436.80 L553.40 2436.80 L560.48 2436.80 L567.55 2436.80 L574.62 2436.80 L581.70 2436.80 L588.77 2436.80 L595.85 2436.80 L602.92 2436.80 L610.00 2436.80 L617.07 2436.80 L624.15 2436.80 L631.23 2436.80 L638.30 2436.80"/>
<path stroke="#dd0a0a" d="M72.30 2436.80 L79.38 2436.80 L86.45 2436.80 L93.52 2436.80 L100.60 2436.80 L107.67 2436.80 L114.75 2436.80 L121.82 2436.80 L128.90 2436.80 L135.97 2436.80 L143.05 2436.80 L150.12 2436.80 L157.20 2436.80 L164.28 2436.80 L171.35 2436.80 L178.43 2436.80 L185.50 2436.80 L192.57 2436.80 L199.65 2436.80 L206.72 2436.80 L213.80 2436.80 L220.88 2436.80 L227.95 2436.80 L235.02 2436.80 L242.10 2436.80 L249.18 2436.80 L256.25 2436.80 L263.32 2436.80 L270.40 2436.80 L277.47 2436.80 L284.55 2436.80 L291.62 2436.80 L298.70 2436.80 L305.77 2436.80 L312.85 2436.80 L319.93 2436.80 L327.00 2436.80 L334.08 2436.80 L341.15 2436.80 L348.23 2436.80 L355.30 2436.80 L362.38 2436.80 L369.45 2436.80 L376.52 2436.80 L383.60 2436.80 L390.68 2436.80 L397.75 2436.80 L404.83 2436.80 L411.90 2436.80 L418.98 2436.80 L426.05 2436.80 L433.12 2435.55 L440.20 2430.95 L447.27 2416.76 L454.35 2379.17 L461.43 2320.71 L468.50 2257.23 L475.58 2182.06 L482.65 2108.98 L489.73 2060.96 L496.80 2030.48 L503.88 2019.20 L510.95 2025.88 L518.02 2049.68 L525.10 2083.93 L532.17 2126.94 L539.25 2167.45 L546.33 2205.87 L553.40 2245.54 L560.48 2283.54 L567.55 2316.53 L574.62 2347.43 L581.70 2369.98 L588.77 2389.19 L595.85 2403.39 L602.92 2414.25 L610.00 2422.18 L617.07 2427.40 L624.15 2430.54 L631.23 2432.42 L638.30 2433.46"/>
</g>
<path d="M72.30 2436.80v7M143.05 2436.80v7M213.80 2436.80v7M284.55 2436.80v7M355.30 2436.80v7M426.05 2436.80v7M496.80 2436.80v7M567.55 2436.80v7M638.30 2436.80v7M72.30 2436.80h-7M72.30 2353.28h-7M72.30 2269.76h-7M72.30 2186.24h-7M72.30 2102.72h-7M72.30 2019.20h-7" stroke="#1a1a1a" stroke-width="1.6" fill="none"/>
<rect x="72.3" y="2019.2" width="566.0" height="417.6" fill="none" stroke="#1a1a1a" stroke-width="1.6"/>
<text class="tk" x="58.7" y="2443.6" text-anchor="end">0.0</text>
<text class="tk" x="58.7" y="2360.1" text-anchor="end">0.2</text>
<text class="tk" x="58.7" y="2276.6" text-anchor="end">0.4</text>
<text class="tk" x="58.7" y="2193.0" text-anchor="end">0.6</text>
<text class="tk" x="58.7" y="2109.5" text-anchor="end">0.8</text>
<text class="tk" x="58.7" y="2026.0" text-anchor="end">1.0</text>
<text class="tk" x="72.3" y="2464.6" text-anchor="middle">300</text>
<text class="tk" x="143.1" y="2464.6" text-anchor="middle">350</text>
<text class="tk" x="213.8" y="2464.6" text-anchor="middle">400</text>
<text class="tk" x="284.6" y="2464.6" text-anchor="middle">450</text>
<text class="tk" x="355.3" y="2464.6" text-anchor="middle">500</text>
<text class="tk" x="426.1" y="2464.6" text-anchor="middle">550</text>
<text class="tk" x="496.8" y="2464.6" text-anchor="middle">600</text>
<text class="tk" x="567.5" y="2464.6" text-anchor="middle">650</text>
<text class="tk" x="638.3" y="2464.6" text-anchor="middle">700</text>
<text class="xl" x="354.8" y="2490.7" text-anchor="middle">Wavelength (nm)</text>
<text class="lb" transform="translate(17.4,2226.6) rotate(-90)" text-anchor="middle">Relative sensitivity</text>
<text class="pl" x="0.7" y="2007.9">I</text>
<g transform="translate(440,2010) scale(0.14970)" fill="#000" stroke="none"><path d="M1282.0 108.0L1270.0 120.0L1220.0 130.0L1170.0 150.0L1110.0 190.0L1075.0 225.0L1055.0 270.0L1050.0 330.0L1040.0 380.0L1075.0 430.0L1130.0 500.0L1180.0 570.0L1215.0 650.0L1235.0 740.0L1240.0 810.0L1222.0 860.0L1175.0 865.0L1150.0 895.0L1138.0 920.0L1105.0 900.0L1075.0 880.0L1050.0 892.0L1030.0 865.0L960.0 820.0L880.0 780.0L825.0 750.0L810.0 710.0L795.0 700.0L760.0 705.0L725.0 750.0L700.0 800.0L690.0 835.0L688.0 820.0L705.0 730.0L725.0 650.0L735.0 580.0L738.0 480.0L738.0 380.0L750.0 290.0L775.0 240.0L810.0 210.0L850.0 190.0L920.0 178.0L1000.0 178.0L1040.0 160.0L1090.0 130.0L1150.0 112.0L1220.0 104.0Z" stroke="#000" stroke-width="4" stroke-linejoin="round"/></g>
<g clip-path="url(#c41)" fill="none" stroke-width="3.7" stroke-linejoin="round" stroke-linecap="butt">
<path stroke="#808080" d="M750.90 2436.80 L757.98 2436.80 L765.05 2436.80 L772.12 2436.80 L779.20 2395.62 L786.27 2352.19 L793.35 2308.18 L800.42 2262.66 L807.50 2216.72 L814.57 2168.70 L821.65 2121.51 L828.73 2078.92 L835.80 2047.60 L842.88 2027.55 L849.95 2019.20 L857.02 2024.21 L864.10 2041.33 L871.17 2071.40 L878.25 2108.98 L885.32 2147.82 L892.40 2195.84 L899.48 2240.53 L906.55 2285.21 L913.62 2329.06 L920.70 2362.68 L927.77 2388.90 L934.85 2409.24 L941.92 2424.27 L949.00 2431.37 L956.07 2434.71 L963.15 2435.96 L970.23 2436.80 L977.30 2436.80 L984.38 2436.80 L991.45 2436.80 L998.52 2436.80 L1005.60 2436.80 L1012.67 2436.80 L1019.75 2436.80 L1026.83 2436.80 L1033.90 2436.80 L1040.97 2436.80 L1048.05 2436.80 L1055.12 2436.80 L1062.20 2436.80 L1069.28 2436.80 L1076.35 2436.80 L1083.42 2436.80 L1090.50 2436.80 L1097.58 2436.80 L1104.65 2436.80 L1111.72 2436.80 L1118.80 2436.80 L1125.88 2436.80 L1132.95 2436.80 L1140.03 2436.80 L1147.10 2436.80 L1154.17 2436.80 L1161.25 2436.80 L1168.33 2436.80 L1175.40 2436.80 L1182.47 2436.80 L1189.55 2436.80 L1196.62 2436.80 L1203.70 2436.80 L1210.78 2436.80 L1217.85 2436.80 L1224.92 2436.80 L1232.00 2436.80 L1239.08 2436.80 L1246.15 2436.80 L1253.22 2436.80 L1260.30 2436.80 L1267.38 2436.80 L1274.45 2436.80 L1281.53 2436.80 L1288.60 2436.80 L1295.67 2436.80 L1302.75 2436.80 L1309.83 2436.80 L1316.90 2436.80"/>
<path stroke="#0b70d0" d="M750.90 2436.80 L757.98 2436.80 L765.05 2436.80 L772.12 2436.80 L779.20 2436.80 L786.27 2436.80 L793.35 2436.80 L800.42 2436.80 L807.50 2436.80 L814.57 2436.80 L821.65 2436.80 L828.73 2436.80 L835.80 2436.80 L842.88 2436.80 L849.95 2436.80 L857.02 2436.80 L864.10 2436.80 L871.17 2436.80 L878.25 2436.80 L885.32 2436.80 L892.40 2436.80 L899.48 2436.38 L906.55 2431.58 L913.62 2410.49 L920.70 2358.29 L927.77 2288.55 L934.85 2228.00 L941.92 2157.84 L949.00 2091.86 L956.07 2049.27 L963.15 2026.72 L970.23 2019.20 L977.30 2026.72 L984.38 2045.93 L991.45 2073.49 L998.52 2112.32 L1005.60 2154.08 L1012.67 2196.68 L1019.75 2236.35 L1026.83 2277.28 L1033.90 2314.86 L1040.97 2347.85 L1048.05 2369.98 L1055.12 2388.15 L1062.20 2402.97 L1069.28 2415.08 L1076.35 2423.85 L1083.42 2429.70 L1090.50 2433.04 L1097.58 2434.84 L1104.65 2435.76 L1111.72 2436.38 L1118.80 2436.80 L1125.88 2436.80 L1132.95 2436.80 L1140.03 2436.80 L1147.10 2436.80 L1154.17 2436.80 L1161.25 2436.80 L1168.33 2436.80 L1175.40 2436.80 L1182.47 2436.80 L1189.55 2436.80 L1196.62 2436.80 L1203.70 2436.80 L1210.78 2436.80 L1217.85 2436.80 L1224.92 2436.80 L1232.00 2436.80 L1239.08 2436.80 L1246.15 2436.80 L1253.22 2436.80 L1260.30 2436.80 L1267.38 2436.80 L1274.45 2436.80 L1281.53 2436.80 L1288.60 2436.80 L1295.67 2436.80 L1302.75 2436.80 L1309.83 2436.80 L1316.90 2436.80"/>
<path stroke="#27a013" d="M750.90 2436.80 L757.98 2436.80 L765.05 2436.80 L772.12 2436.80 L779.20 2436.80 L786.27 2436.80 L793.35 2436.80 L800.42 2436.80 L807.50 2436.80 L814.57 2436.80 L821.65 2436.80 L828.73 2436.80 L835.80 2436.80 L842.88 2436.80 L849.95 2436.80 L857.02 2436.80 L864.10 2436.80 L871.17 2436.80 L878.25 2436.80 L885.32 2436.80 L892.40 2436.80 L899.48 2436.80 L906.55 2436.80 L913.62 2436.80 L920.70 2436.80 L927.77 2436.80 L934.85 2436.80 L941.92 2436.80 L949.00 2436.80 L956.07 2436.80 L963.15 2436.80 L970.23 2436.80 L977.30 2436.80 L984.38 2436.80 L991.45 2436.80 L998.52 2436.80 L1005.60 2436.80 L1012.67 2436.80 L1019.75 2436.80 L1026.83 2436.38 L1033.90 2433.88 L1040.97 2413.41 L1048.05 2384.60 L1055.12 2334.49 L1062.20 2257.82 L1069.28 2180.81 L1076.35 2102.72 L1083.42 2043.84 L1090.50 2020.04 L1097.58 2019.20 L1104.65 2045.93 L1111.72 2091.03 L1118.80 2138.22 L1125.88 2187.08 L1132.95 2238.44 L1140.03 2283.12 L1147.10 2319.25 L1154.17 2350.77 L1161.25 2377.67 L1168.33 2398.63 L1175.40 2414.33 L1182.47 2424.06 L1189.55 2430.54 L1196.62 2434.09 L1203.70 2435.55 L1210.78 2436.38 L1217.85 2436.80 L1224.92 2436.80 L1232.00 2436.80 L1239.08 2436.80 L1246.15 2436.80 L1253.22 2436.80 L1260.30 2436.80 L1267.38 2436.80 L1274.45 2436.80 L1281.53 2436.80 L1288.60 2436.80 L1295.67 2436.80 L1302.75 2436.80 L1309.83 2436.80 L1316.90 2436.80"/>
<path stroke="#dd0a0a" d="M750.90 2436.80 L757.98 2436.80 L765.05 2436.80 L772.12 2436.80 L779.20 2436.80 L786.27 2436.80 L793.35 2436.80 L800.42 2436.80 L807.50 2436.80 L814.57 2436.80 L821.65 2436.80 L828.73 2436.80 L835.80 2436.80 L842.88 2436.80 L849.95 2436.80 L857.02 2436.80 L864.10 2436.80 L871.17 2436.80 L878.25 2436.80 L885.32 2436.80 L892.40 2436.80 L899.48 2436.80 L906.55 2436.80 L913.62 2436.80 L920.70 2436.80 L927.77 2436.80 L934.85 2436.80 L941.92 2436.80 L949.00 2436.80 L956.07 2436.80 L963.15 2436.80 L970.23 2436.80 L977.30 2436.80 L984.38 2436.80 L991.45 2436.80 L998.52 2436.80 L1005.60 2436.80 L1012.67 2436.80 L1019.75 2436.80 L1026.83 2436.80 L1033.90 2436.80 L1040.97 2436.80 L1048.05 2436.80 L1055.12 2436.80 L1062.20 2436.80 L1069.28 2436.80 L1076.35 2436.80 L1083.42 2436.80 L1090.50 2436.80 L1097.58 2436.80 L1104.65 2436.80 L1111.72 2436.38 L1118.80 2433.88 L1125.88 2420.10 L1132.95 2389.61 L1140.03 2347.02 L1147.10 2298.99 L1154.17 2225.91 L1161.25 2152.41 L1168.33 2083.93 L1175.40 2038.83 L1182.47 2019.20 L1189.55 2020.04 L1196.62 2038.41 L1203.70 2081.84 L1210.78 2125.69 L1217.85 2169.54 L1224.92 2207.12 L1232.00 2245.96 L1239.08 2284.38 L1246.15 2315.70 L1253.22 2349.10 L1260.30 2372.49 L1267.38 2390.45 L1274.45 2404.64 L1281.53 2415.50 L1288.60 2423.02 L1295.67 2428.03 L1302.75 2431.37 L1309.83 2433.46 L1316.90 2434.29"/>
</g>
<path d="M750.90 2436.80v7M821.65 2436.80v7M892.40 2436.80v7M963.15 2436.80v7M1033.90 2436.80v7M1104.65 2436.80v7M1175.40 2436.80v7M1246.15 2436.80v7M1316.90 2436.80v7M750.90 2436.80h-7M750.90 2353.28h-7M750.90 2269.76h-7M750.90 2186.24h-7M750.90 2102.72h-7M750.90 2019.20h-7" stroke="#1a1a1a" stroke-width="1.6" fill="none"/>
<rect x="750.9" y="2019.2" width="566.0" height="417.6" fill="none" stroke="#1a1a1a" stroke-width="1.6"/>
<text class="tk" x="750.9" y="2464.6" text-anchor="middle">300</text>
<text class="tk" x="821.6" y="2464.6" text-anchor="middle">350</text>
<text class="tk" x="892.4" y="2464.6" text-anchor="middle">400</text>
<text class="tk" x="963.1" y="2464.6" text-anchor="middle">450</text>
<text class="tk" x="1033.9" y="2464.6" text-anchor="middle">500</text>
<text class="tk" x="1104.7" y="2464.6" text-anchor="middle">550</text>
<text class="tk" x="1175.4" y="2464.6" text-anchor="middle">600</text>
<text class="tk" x="1246.2" y="2464.6" text-anchor="middle">650</text>
<text class="tk" x="1316.9" y="2464.6" text-anchor="middle">700</text>
<text class="xl" x="1033.4" y="2490.7" text-anchor="middle">Wavelength (nm)</text>
<text class="pl" x="672.6" y="2008.0">J</text>
<g transform="translate(1120,2010) scale(0.14970)" fill="#000" stroke="none"><path d="M560.0 180.0C561.7 175.8 576.7 170.0 600.0 165.0C623.3 160.0 668.3 152.5 700.0 150.0C731.7 147.5 765.0 150.3 790.0 150.0C815.0 149.7 835.0 150.5 850.0 148.0C865.0 145.5 868.3 138.3 880.0 135.0C891.7 131.7 900.0 129.2 920.0 128.0C940.0 126.8 976.7 126.0 1000.0 128.0C1023.3 130.0 1041.7 133.8 1060.0 140.0C1078.3 146.2 1095.0 153.3 1110.0 165.0C1125.0 176.7 1137.5 192.5 1150.0 210.0C1162.5 227.5 1175.8 250.0 1185.0 270.0C1194.2 290.0 1198.3 310.0 1205.0 330.0C1211.7 350.0 1215.0 373.3 1225.0 390.0C1235.0 406.7 1256.7 419.2 1265.0 430.0C1273.3 440.8 1276.7 446.7 1275.0 455.0C1273.3 463.3 1265.0 472.5 1255.0 480.0C1245.0 487.5 1227.5 492.5 1215.0 500.0C1202.5 507.5 1190.8 517.5 1180.0 525.0C1169.2 532.5 1165.0 541.2 1150.0 545.0C1135.0 548.8 1111.7 549.7 1090.0 548.0C1068.3 546.3 1041.7 538.3 1020.0 535.0C998.3 531.7 975.0 528.0 960.0 528.0C945.0 528.0 939.2 527.7 930.0 535.0C920.8 542.3 912.5 564.5 905.0 572.0C897.5 579.5 894.2 580.7 885.0 580.0C875.8 579.3 856.7 574.7 850.0 568.0C843.3 561.3 844.2 553.0 845.0 540.0C845.8 527.0 849.2 503.3 855.0 490.0C860.8 476.7 870.8 469.2 880.0 460.0C889.2 450.8 908.3 445.0 910.0 435.0C911.7 425.0 898.3 415.8 890.0 400.0C881.7 384.2 871.7 360.0 860.0 340.0C848.3 320.0 833.3 296.7 820.0 280.0C806.7 263.3 796.7 250.8 780.0 240.0C763.3 229.2 741.7 221.7 720.0 215.0C698.3 208.3 671.7 204.2 650.0 200.0C628.3 195.8 605.0 193.3 590.0 190.0C575.0 186.7 558.3 184.2 560.0 180.0Z"/></g>
</svg>
</body></html>
